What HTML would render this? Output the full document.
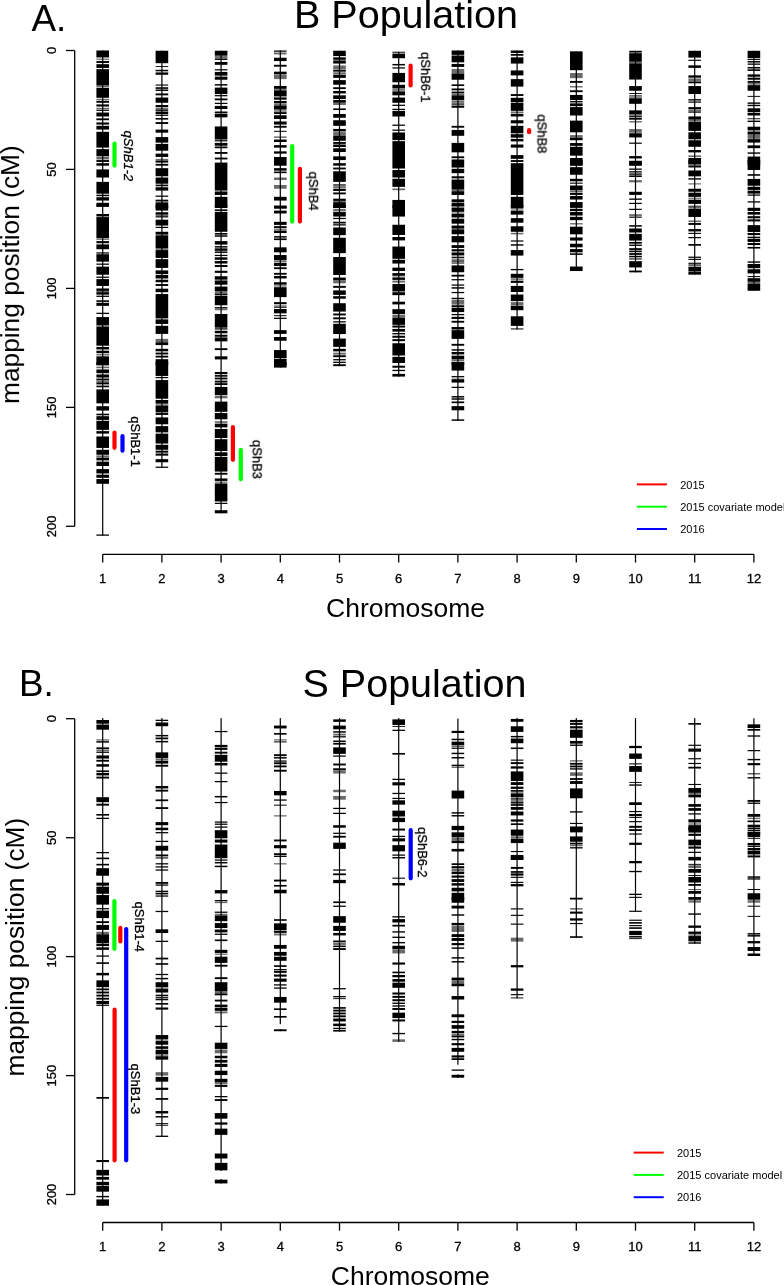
<!DOCTYPE html>
<html><head><meta charset="utf-8"><style>
html,body{margin:0;padding:0;background:#fff;}
svg{display:block;}
text{font-family:"Liberation Sans",sans-serif;fill:#000;}
.sm{stroke:#000;stroke-width:0.3px;}
</style></head><body>
<svg width="784" height="1285" viewBox="0 0 784 1285">
<rect width="784" height="1285" fill="#fff"/>
<rect x="96.40" y="719.98" width="12.60" height="3.74" fill="#000"/>
<rect x="96.40" y="723.97" width="12.60" height="0.75" fill="#6a6a6a"/>
<rect x="96.40" y="724.96" width="12.60" height="4.73" fill="#000"/>
<rect x="96.40" y="739.28" width="12.60" height="1.25" fill="#6a6a6a"/>
<rect x="96.40" y="741.15" width="12.60" height="1.49" fill="#000"/>
<rect x="96.40" y="747.38" width="12.60" height="1.87" fill="#000"/>
<rect x="96.40" y="749.87" width="12.60" height="1.87" fill="#6a6a6a"/>
<rect x="96.40" y="752.11" width="12.60" height="0.87" fill="#000"/>
<rect x="96.40" y="755.47" width="12.60" height="3.11" fill="#000"/>
<rect x="96.40" y="759.83" width="12.60" height="1.87" fill="#000"/>
<rect x="96.40" y="764.19" width="12.60" height="2.49" fill="#000"/>
<rect x="96.40" y="770.42" width="12.60" height="1.62" fill="#000"/>
<rect x="96.40" y="772.91" width="12.60" height="2.49" fill="#000"/>
<rect x="96.40" y="776.64" width="12.60" height="1.87" fill="#000"/>
<rect x="96.40" y="797.19" width="12.60" height="4.98" fill="#000"/>
<rect x="96.40" y="803.67" width="12.60" height="1.99" fill="#000"/>
<rect x="96.40" y="814.00" width="12.60" height="1.62" fill="#000"/>
<rect x="96.40" y="817.74" width="12.60" height="1.25" fill="#000"/>
<rect x="96.40" y="851.99" width="12.60" height="1.25" fill="#000"/>
<rect x="96.40" y="857.59" width="12.60" height="1.62" fill="#000"/>
<rect x="96.40" y="863.82" width="12.60" height="1.62" fill="#000"/>
<rect x="96.40" y="868.18" width="12.60" height="6.85" fill="#000"/>
<rect x="96.40" y="872.00" width="12.60" height="3.74" fill="#000"/>
<rect x="96.40" y="882.59" width="12.60" height="3.11" fill="#000"/>
<rect x="96.40" y="886.69" width="12.60" height="7.10" fill="#000"/>
<rect x="96.40" y="895.04" width="12.60" height="9.59" fill="#000"/>
<rect x="96.40" y="908.11" width="12.60" height="1.25" fill="#000"/>
<rect x="96.40" y="910.61" width="12.60" height="7.47" fill="#000"/>
<rect x="96.40" y="921.19" width="12.60" height="1.87" fill="#000"/>
<rect x="96.40" y="924.93" width="12.60" height="4.98" fill="#000"/>
<rect x="96.40" y="931.78" width="12.60" height="2.49" fill="#6a6a6a"/>
<rect x="96.40" y="934.27" width="12.60" height="8.72" fill="#000"/>
<rect x="96.40" y="943.61" width="12.60" height="2.49" fill="#000"/>
<rect x="96.40" y="947.34" width="12.60" height="2.49" fill="#000"/>
<rect x="96.40" y="955.44" width="12.60" height="1.25" fill="#000"/>
<rect x="96.40" y="962.29" width="12.60" height="1.62" fill="#000"/>
<rect x="96.40" y="972.87" width="12.60" height="2.49" fill="#000"/>
<rect x="96.40" y="980.34" width="12.60" height="6.85" fill="#000"/>
<rect x="96.40" y="988.44" width="12.60" height="1.87" fill="#000"/>
<rect x="96.40" y="991.55" width="12.60" height="1.87" fill="#000"/>
<rect x="96.40" y="994.67" width="12.60" height="1.87" fill="#000"/>
<rect x="96.40" y="997.78" width="12.60" height="1.87" fill="#000"/>
<rect x="96.40" y="1000.89" width="12.60" height="3.11" fill="#000"/>
<rect x="96.40" y="1004.63" width="12.60" height="1.25" fill="#000"/>
<rect x="96.40" y="1097.03" width="12.60" height="1.69" fill="#000"/>
<rect x="96.40" y="1159.99" width="12.60" height="2.11" fill="#000"/>
<rect x="96.40" y="1169.85" width="12.60" height="5.63" fill="#000"/>
<rect x="96.40" y="1176.89" width="12.60" height="2.82" fill="#000"/>
<rect x="96.40" y="1181.82" width="12.60" height="3.52" fill="#000"/>
<rect x="96.40" y="1186.04" width="12.60" height="5.63" fill="#000"/>
<rect x="96.40" y="1195.90" width="12.60" height="1.41" fill="#000"/>
<rect x="96.40" y="1199.42" width="12.60" height="6.34" fill="#000"/>
<rect x="102.10" y="718.11" width="1.20" height="487.65" fill="#000"/>
<rect x="155.60" y="719.73" width="12.60" height="1.25" fill="#000"/>
<rect x="155.60" y="722.47" width="12.60" height="3.74" fill="#000"/>
<rect x="155.60" y="734.93" width="12.60" height="1.25" fill="#000"/>
<rect x="155.60" y="736.42" width="12.60" height="1.00" fill="#6a6a6a"/>
<rect x="155.60" y="737.67" width="12.60" height="1.62" fill="#000"/>
<rect x="155.60" y="740.90" width="12.60" height="1.49" fill="#000"/>
<rect x="155.60" y="752.36" width="12.60" height="5.60" fill="#000"/>
<rect x="155.60" y="758.34" width="12.60" height="2.12" fill="#6a6a6a"/>
<rect x="155.60" y="760.83" width="12.60" height="2.74" fill="#000"/>
<rect x="155.60" y="764.81" width="12.60" height="1.87" fill="#000"/>
<rect x="155.60" y="785.98" width="12.60" height="2.49" fill="#000"/>
<rect x="155.60" y="789.72" width="12.60" height="1.87" fill="#000"/>
<rect x="155.60" y="799.43" width="12.60" height="1.74" fill="#000"/>
<rect x="155.60" y="807.15" width="12.60" height="1.87" fill="#000"/>
<rect x="155.60" y="822.10" width="12.60" height="3.11" fill="#000"/>
<rect x="155.60" y="827.70" width="12.60" height="2.49" fill="#000"/>
<rect x="155.60" y="832.06" width="12.60" height="1.25" fill="#000"/>
<rect x="155.60" y="840.78" width="12.60" height="1.25" fill="#000"/>
<rect x="155.60" y="845.76" width="12.60" height="4.98" fill="#000"/>
<rect x="155.60" y="854.48" width="12.60" height="1.87" fill="#000"/>
<rect x="155.60" y="856.97" width="12.60" height="1.87" fill="#6a6a6a"/>
<rect x="155.60" y="863.19" width="12.60" height="1.25" fill="#000"/>
<rect x="155.60" y="866.31" width="12.60" height="1.25" fill="#000"/>
<rect x="155.60" y="869.42" width="12.60" height="1.25" fill="#000"/>
<rect x="155.60" y="881.96" width="12.60" height="1.87" fill="#000"/>
<rect x="155.60" y="884.45" width="12.60" height="1.25" fill="#000"/>
<rect x="155.60" y="890.68" width="12.60" height="1.49" fill="#000"/>
<rect x="155.60" y="892.92" width="12.60" height="1.49" fill="#000"/>
<rect x="155.60" y="895.41" width="12.60" height="1.25" fill="#000"/>
<rect x="155.60" y="910.85" width="12.60" height="1.25" fill="#000"/>
<rect x="155.60" y="929.29" width="12.60" height="3.74" fill="#000"/>
<rect x="155.60" y="940.74" width="12.60" height="1.25" fill="#000"/>
<rect x="155.60" y="957.68" width="12.60" height="1.74" fill="#000"/>
<rect x="155.60" y="963.16" width="12.60" height="1.62" fill="#000"/>
<rect x="155.60" y="973.87" width="12.60" height="1.25" fill="#000"/>
<rect x="155.60" y="977.85" width="12.60" height="1.49" fill="#000"/>
<rect x="155.60" y="982.21" width="12.60" height="4.98" fill="#000"/>
<rect x="155.60" y="987.57" width="12.60" height="1.25" fill="#6a6a6a"/>
<rect x="155.60" y="989.06" width="12.60" height="3.49" fill="#000"/>
<rect x="155.60" y="994.67" width="12.60" height="1.62" fill="#000"/>
<rect x="155.60" y="997.16" width="12.60" height="1.25" fill="#000"/>
<rect x="155.60" y="999.02" width="12.60" height="1.25" fill="#000"/>
<rect x="155.60" y="1003.01" width="12.60" height="1.62" fill="#000"/>
<rect x="155.60" y="1007.49" width="12.60" height="2.12" fill="#000"/>
<rect x="155.60" y="1035.04" width="12.60" height="3.89" fill="#000"/>
<rect x="155.60" y="1039.19" width="12.60" height="1.47" fill="#6a6a6a"/>
<rect x="155.60" y="1041.09" width="12.60" height="3.63" fill="#000"/>
<rect x="155.60" y="1046.27" width="12.60" height="2.59" fill="#000"/>
<rect x="155.60" y="1049.73" width="12.60" height="4.32" fill="#000"/>
<rect x="155.60" y="1054.22" width="12.60" height="1.55" fill="#6a6a6a"/>
<rect x="155.60" y="1056.20" width="12.60" height="3.45" fill="#000"/>
<rect x="155.60" y="1072.18" width="12.60" height="3.45" fill="#6a6a6a"/>
<rect x="155.60" y="1076.93" width="12.60" height="4.75" fill="#000"/>
<rect x="155.60" y="1087.72" width="12.60" height="2.16" fill="#000"/>
<rect x="155.60" y="1098.08" width="12.60" height="1.73" fill="#000"/>
<rect x="155.60" y="1111.04" width="12.60" height="2.42" fill="#000"/>
<rect x="155.60" y="1116.05" width="12.60" height="1.47" fill="#000"/>
<rect x="155.60" y="1123.13" width="12.60" height="0.86" fill="#000"/>
<rect x="155.60" y="1124.68" width="12.60" height="1.04" fill="#000"/>
<rect x="155.60" y="1135.65" width="12.60" height="1.30" fill="#000"/>
<rect x="161.30" y="718.11" width="1.20" height="418.83" fill="#000"/>
<rect x="214.80" y="730.94" width="12.60" height="1.25" fill="#000"/>
<rect x="214.80" y="744.89" width="12.60" height="2.49" fill="#000"/>
<rect x="214.80" y="748.00" width="12.60" height="1.87" fill="#000"/>
<rect x="214.80" y="751.74" width="12.60" height="1.87" fill="#000"/>
<rect x="214.80" y="754.85" width="12.60" height="6.85" fill="#000"/>
<rect x="214.80" y="762.95" width="12.60" height="2.49" fill="#000"/>
<rect x="214.80" y="772.53" width="12.60" height="1.25" fill="#000"/>
<rect x="214.80" y="781.00" width="12.60" height="1.25" fill="#000"/>
<rect x="214.80" y="795.95" width="12.60" height="1.49" fill="#000"/>
<rect x="214.80" y="801.92" width="12.60" height="1.25" fill="#000"/>
<rect x="214.80" y="821.48" width="12.60" height="1.25" fill="#000"/>
<rect x="214.80" y="823.59" width="12.60" height="1.25" fill="#000"/>
<rect x="214.80" y="826.46" width="12.60" height="1.25" fill="#000"/>
<rect x="214.80" y="830.19" width="12.60" height="8.09" fill="#000"/>
<rect x="214.80" y="839.53" width="12.60" height="3.11" fill="#000"/>
<rect x="214.80" y="844.51" width="12.60" height="13.70" fill="#000"/>
<rect x="214.80" y="859.46" width="12.60" height="1.25" fill="#000"/>
<rect x="214.80" y="861.95" width="12.60" height="1.49" fill="#000"/>
<rect x="214.80" y="865.68" width="12.60" height="1.49" fill="#000"/>
<rect x="214.80" y="890.06" width="12.60" height="3.36" fill="#000"/>
<rect x="214.80" y="900.02" width="12.60" height="1.25" fill="#000"/>
<rect x="214.80" y="901.64" width="12.60" height="1.49" fill="#6a6a6a"/>
<rect x="214.80" y="911.60" width="12.60" height="1.25" fill="#000"/>
<rect x="214.80" y="913.72" width="12.60" height="1.25" fill="#6a6a6a"/>
<rect x="214.80" y="915.34" width="12.60" height="5.85" fill="#000"/>
<rect x="214.80" y="923.06" width="12.60" height="4.98" fill="#000"/>
<rect x="214.80" y="929.53" width="12.60" height="2.86" fill="#000"/>
<rect x="214.80" y="933.64" width="12.60" height="1.25" fill="#000"/>
<rect x="214.80" y="939.50" width="12.60" height="1.62" fill="#000"/>
<rect x="214.80" y="949.83" width="12.60" height="3.11" fill="#000"/>
<rect x="214.80" y="953.57" width="12.60" height="1.25" fill="#6a6a6a"/>
<rect x="214.80" y="956.68" width="12.60" height="6.23" fill="#000"/>
<rect x="214.80" y="964.78" width="12.60" height="1.87" fill="#000"/>
<rect x="214.80" y="977.23" width="12.60" height="1.87" fill="#000"/>
<rect x="214.80" y="982.21" width="12.60" height="9.34" fill="#000"/>
<rect x="214.80" y="991.55" width="12.60" height="1.87" fill="#6a6a6a"/>
<rect x="214.80" y="993.42" width="12.60" height="1.87" fill="#000"/>
<rect x="214.80" y="999.65" width="12.60" height="1.87" fill="#000"/>
<rect x="214.80" y="1004.63" width="12.60" height="2.49" fill="#000"/>
<rect x="214.80" y="1007.74" width="12.60" height="3.11" fill="#000"/>
<rect x="214.80" y="1011.48" width="12.60" height="1.87" fill="#6a6a6a"/>
<rect x="214.80" y="1025.80" width="12.60" height="1.25" fill="#000"/>
<rect x="214.80" y="1042.70" width="12.60" height="6.23" fill="#000"/>
<rect x="214.80" y="1049.55" width="12.60" height="3.74" fill="#6a6a6a"/>
<rect x="214.80" y="1055.77" width="12.60" height="2.49" fill="#000"/>
<rect x="214.80" y="1059.88" width="12.60" height="2.74" fill="#000"/>
<rect x="214.80" y="1063.87" width="12.60" height="3.11" fill="#000"/>
<rect x="214.80" y="1070.72" width="12.60" height="4.36" fill="#000"/>
<rect x="214.80" y="1078.81" width="12.60" height="3.74" fill="#000"/>
<rect x="214.80" y="1082.80" width="12.60" height="1.62" fill="#6a6a6a"/>
<rect x="214.80" y="1085.04" width="12.60" height="1.87" fill="#000"/>
<rect x="214.80" y="1096.00" width="12.60" height="1.25" fill="#000"/>
<rect x="214.80" y="1099.11" width="12.60" height="1.87" fill="#000"/>
<rect x="214.80" y="1113.06" width="12.60" height="5.60" fill="#000"/>
<rect x="214.80" y="1122.40" width="12.60" height="2.24" fill="#000"/>
<rect x="214.80" y="1128.63" width="12.60" height="6.23" fill="#000"/>
<rect x="214.80" y="1153.53" width="12.60" height="4.98" fill="#000"/>
<rect x="214.80" y="1162.87" width="12.60" height="7.47" fill="#000"/>
<rect x="214.80" y="1179.68" width="12.60" height="3.74" fill="#000"/>
<rect x="220.50" y="718.11" width="1.20" height="452.85" fill="#000"/>
<rect x="220.50" y="1179.06" width="1.20" height="4.36" fill="#000"/>
<rect x="274.00" y="725.59" width="12.60" height="2.86" fill="#000"/>
<rect x="274.00" y="733.06" width="12.60" height="1.62" fill="#000"/>
<rect x="274.00" y="739.28" width="12.60" height="1.25" fill="#6a6a6a"/>
<rect x="274.00" y="741.40" width="12.60" height="1.00" fill="#000"/>
<rect x="274.00" y="754.23" width="12.60" height="1.87" fill="#000"/>
<rect x="274.00" y="757.09" width="12.60" height="1.49" fill="#000"/>
<rect x="274.00" y="760.45" width="12.60" height="1.25" fill="#000"/>
<rect x="274.00" y="762.32" width="12.60" height="1.87" fill="#000"/>
<rect x="274.00" y="765.44" width="12.60" height="1.87" fill="#000"/>
<rect x="274.00" y="769.79" width="12.60" height="1.87" fill="#000"/>
<rect x="274.00" y="790.97" width="12.60" height="4.36" fill="#000"/>
<rect x="274.00" y="799.43" width="12.60" height="1.25" fill="#000"/>
<rect x="274.00" y="804.66" width="12.60" height="1.00" fill="#000"/>
<rect x="274.00" y="815.25" width="12.60" height="1.25" fill="#6a6a6a"/>
<rect x="274.00" y="839.53" width="12.60" height="1.87" fill="#000"/>
<rect x="274.00" y="845.14" width="12.60" height="3.11" fill="#000"/>
<rect x="274.00" y="853.23" width="12.60" height="1.87" fill="#000"/>
<rect x="274.00" y="855.72" width="12.60" height="1.25" fill="#000"/>
<rect x="274.00" y="863.19" width="12.60" height="1.25" fill="#6a6a6a"/>
<rect x="274.00" y="879.61" width="12.60" height="1.90" fill="#000"/>
<rect x="274.00" y="884.94" width="12.60" height="1.65" fill="#000"/>
<rect x="274.00" y="889.76" width="12.60" height="3.55" fill="#000"/>
<rect x="274.00" y="919.19" width="12.60" height="1.65" fill="#000"/>
<rect x="274.00" y="923.38" width="12.60" height="6.98" fill="#000"/>
<rect x="274.00" y="930.99" width="12.60" height="1.90" fill="#000"/>
<rect x="274.00" y="933.52" width="12.60" height="1.90" fill="#6a6a6a"/>
<rect x="274.00" y="944.94" width="12.60" height="3.81" fill="#000"/>
<rect x="274.00" y="951.92" width="12.60" height="3.81" fill="#000"/>
<rect x="274.00" y="956.74" width="12.60" height="4.06" fill="#000"/>
<rect x="274.00" y="965.24" width="12.60" height="1.65" fill="#000"/>
<rect x="274.00" y="969.04" width="12.60" height="1.27" fill="#000"/>
<rect x="274.00" y="970.95" width="12.60" height="1.90" fill="#000"/>
<rect x="274.00" y="974.50" width="12.60" height="2.16" fill="#000"/>
<rect x="274.00" y="978.56" width="12.60" height="3.17" fill="#000"/>
<rect x="274.00" y="984.27" width="12.60" height="1.27" fill="#000"/>
<rect x="274.00" y="987.44" width="12.60" height="1.27" fill="#000"/>
<rect x="274.00" y="996.95" width="12.60" height="5.71" fill="#000"/>
<rect x="274.00" y="1008.37" width="12.60" height="1.65" fill="#000"/>
<rect x="274.00" y="1015.98" width="12.60" height="1.65" fill="#000"/>
<rect x="274.00" y="1029.30" width="12.60" height="1.90" fill="#000"/>
<rect x="279.70" y="718.11" width="1.20" height="306.11" fill="#000"/>
<rect x="279.70" y="1029.05" width="1.20" height="2.16" fill="#000"/>
<rect x="333.20" y="719.36" width="12.60" height="2.49" fill="#000"/>
<rect x="333.20" y="725.59" width="12.60" height="3.74" fill="#000"/>
<rect x="333.20" y="731.19" width="12.60" height="1.49" fill="#000"/>
<rect x="333.20" y="733.68" width="12.60" height="1.87" fill="#6a6a6a"/>
<rect x="333.20" y="736.17" width="12.60" height="1.25" fill="#000"/>
<rect x="333.20" y="740.53" width="12.60" height="1.62" fill="#000"/>
<rect x="333.20" y="743.02" width="12.60" height="1.62" fill="#000"/>
<rect x="333.20" y="747.38" width="12.60" height="6.48" fill="#000"/>
<rect x="333.20" y="755.47" width="12.60" height="1.25" fill="#000"/>
<rect x="333.20" y="763.57" width="12.60" height="1.87" fill="#000"/>
<rect x="333.20" y="768.30" width="12.60" height="2.12" fill="#000"/>
<rect x="333.20" y="770.79" width="12.60" height="2.74" fill="#6a6a6a"/>
<rect x="333.20" y="789.72" width="12.60" height="2.49" fill="#6a6a6a"/>
<rect x="333.20" y="795.95" width="12.60" height="3.74" fill="#6a6a6a"/>
<rect x="333.20" y="807.78" width="12.60" height="1.25" fill="#000"/>
<rect x="333.20" y="812.76" width="12.60" height="1.25" fill="#000"/>
<rect x="333.20" y="825.21" width="12.60" height="2.49" fill="#000"/>
<rect x="333.20" y="832.68" width="12.60" height="1.25" fill="#000"/>
<rect x="333.20" y="835.80" width="12.60" height="1.87" fill="#000"/>
<rect x="333.20" y="842.65" width="12.60" height="6.23" fill="#000"/>
<rect x="333.20" y="869.42" width="12.60" height="1.25" fill="#000"/>
<rect x="333.20" y="873.52" width="12.60" height="1.65" fill="#000"/>
<rect x="333.20" y="873.78" width="12.60" height="1.25" fill="#000"/>
<rect x="333.20" y="879.87" width="12.60" height="3.30" fill="#000"/>
<rect x="333.20" y="901.43" width="12.60" height="1.65" fill="#000"/>
<rect x="333.20" y="905.62" width="12.60" height="1.27" fill="#000"/>
<rect x="333.20" y="916.15" width="12.60" height="6.60" fill="#000"/>
<rect x="333.20" y="925.91" width="12.60" height="5.07" fill="#000"/>
<rect x="333.20" y="932.89" width="12.60" height="2.54" fill="#000"/>
<rect x="333.20" y="940.50" width="12.60" height="1.52" fill="#000"/>
<rect x="333.20" y="942.40" width="12.60" height="2.54" fill="#6a6a6a"/>
<rect x="333.20" y="945.58" width="12.60" height="1.52" fill="#000"/>
<rect x="333.20" y="948.11" width="12.60" height="1.90" fill="#000"/>
<rect x="333.20" y="988.07" width="12.60" height="1.27" fill="#000"/>
<rect x="333.20" y="996.06" width="12.60" height="1.27" fill="#000"/>
<rect x="333.20" y="998.22" width="12.60" height="0.89" fill="#000"/>
<rect x="333.20" y="1007.10" width="12.60" height="1.65" fill="#000"/>
<rect x="333.20" y="1009.64" width="12.60" height="1.90" fill="#000"/>
<rect x="333.20" y="1012.56" width="12.60" height="1.78" fill="#000"/>
<rect x="333.20" y="1015.35" width="12.60" height="1.90" fill="#000"/>
<rect x="333.20" y="1018.52" width="12.60" height="2.92" fill="#000"/>
<rect x="333.20" y="1023.59" width="12.60" height="2.54" fill="#000"/>
<rect x="333.20" y="1027.78" width="12.60" height="1.27" fill="#000"/>
<rect x="333.20" y="1029.93" width="12.60" height="1.65" fill="#000"/>
<rect x="338.90" y="718.11" width="1.20" height="313.47" fill="#000"/>
<rect x="392.40" y="719.36" width="12.60" height="5.60" fill="#000"/>
<rect x="392.40" y="725.96" width="12.60" height="0.87" fill="#000"/>
<rect x="392.40" y="729.69" width="12.60" height="1.25" fill="#000"/>
<rect x="392.40" y="752.98" width="12.60" height="1.62" fill="#000"/>
<rect x="392.40" y="778.76" width="12.60" height="1.25" fill="#000"/>
<rect x="392.40" y="782.25" width="12.60" height="3.11" fill="#000"/>
<rect x="392.40" y="792.83" width="12.60" height="1.25" fill="#000"/>
<rect x="392.40" y="797.81" width="12.60" height="1.25" fill="#000"/>
<rect x="392.40" y="800.31" width="12.60" height="4.36" fill="#000"/>
<rect x="392.40" y="810.64" width="12.60" height="5.85" fill="#000"/>
<rect x="392.40" y="817.74" width="12.60" height="4.36" fill="#000"/>
<rect x="392.40" y="828.57" width="12.60" height="1.99" fill="#000"/>
<rect x="392.40" y="835.80" width="12.60" height="1.25" fill="#000"/>
<rect x="392.40" y="838.29" width="12.60" height="3.11" fill="#000"/>
<rect x="392.40" y="845.14" width="12.60" height="6.23" fill="#000"/>
<rect x="392.40" y="854.48" width="12.60" height="1.25" fill="#000"/>
<rect x="392.40" y="856.97" width="12.60" height="1.49" fill="#000"/>
<rect x="392.40" y="877.65" width="12.60" height="1.08" fill="#000"/>
<rect x="392.40" y="883.04" width="12.60" height="2.42" fill="#000"/>
<rect x="392.40" y="916.16" width="12.60" height="1.35" fill="#000"/>
<rect x="392.40" y="919.12" width="12.60" height="3.37" fill="#000"/>
<rect x="392.40" y="924.77" width="12.60" height="1.75" fill="#000"/>
<rect x="392.40" y="931.24" width="12.60" height="1.35" fill="#000"/>
<rect x="392.40" y="936.62" width="12.60" height="1.35" fill="#000"/>
<rect x="392.40" y="942.01" width="12.60" height="1.35" fill="#000"/>
<rect x="392.40" y="945.77" width="12.60" height="3.63" fill="#000"/>
<rect x="392.40" y="949.81" width="12.60" height="3.63" fill="#6a6a6a"/>
<rect x="392.40" y="962.47" width="12.60" height="2.15" fill="#000"/>
<rect x="392.40" y="971.62" width="12.60" height="1.62" fill="#000"/>
<rect x="392.40" y="974.99" width="12.60" height="2.29" fill="#000"/>
<rect x="392.40" y="979.03" width="12.60" height="2.69" fill="#000"/>
<rect x="392.40" y="982.66" width="12.60" height="5.12" fill="#000"/>
<rect x="392.40" y="992.49" width="12.60" height="2.02" fill="#000"/>
<rect x="392.40" y="995.86" width="12.60" height="2.02" fill="#000"/>
<rect x="392.40" y="999.22" width="12.60" height="2.02" fill="#000"/>
<rect x="392.40" y="1002.59" width="12.60" height="1.35" fill="#000"/>
<rect x="392.40" y="1005.28" width="12.60" height="1.35" fill="#000"/>
<rect x="392.40" y="1007.97" width="12.60" height="2.02" fill="#000"/>
<rect x="392.40" y="1012.68" width="12.60" height="5.39" fill="#000"/>
<rect x="392.40" y="1019.42" width="12.60" height="2.02" fill="#000"/>
<rect x="392.40" y="1032.88" width="12.60" height="1.35" fill="#000"/>
<rect x="392.40" y="1039.34" width="12.60" height="2.56" fill="#6a6a6a"/>
<rect x="398.10" y="718.11" width="1.20" height="323.78" fill="#000"/>
<rect x="451.60" y="730.84" width="12.60" height="2.16" fill="#000"/>
<rect x="451.60" y="738.75" width="12.60" height="1.44" fill="#000"/>
<rect x="451.60" y="741.63" width="12.60" height="3.60" fill="#000"/>
<rect x="451.60" y="745.52" width="12.60" height="1.87" fill="#6a6a6a"/>
<rect x="451.60" y="747.82" width="12.60" height="1.01" fill="#000"/>
<rect x="451.60" y="752.72" width="12.60" height="1.44" fill="#000"/>
<rect x="451.60" y="757.04" width="12.60" height="1.44" fill="#000"/>
<rect x="451.60" y="764.67" width="12.60" height="1.44" fill="#000"/>
<rect x="451.60" y="766.54" width="12.60" height="1.44" fill="#6a6a6a"/>
<rect x="451.60" y="790.58" width="12.60" height="7.92" fill="#000"/>
<rect x="451.60" y="812.18" width="12.60" height="1.44" fill="#000"/>
<rect x="451.60" y="815.06" width="12.60" height="1.44" fill="#000"/>
<rect x="451.60" y="825.86" width="12.60" height="4.32" fill="#000"/>
<rect x="451.60" y="832.33" width="12.60" height="5.04" fill="#000"/>
<rect x="451.60" y="837.66" width="12.60" height="2.59" fill="#6a6a6a"/>
<rect x="451.60" y="840.54" width="12.60" height="2.59" fill="#000"/>
<rect x="451.60" y="848.89" width="12.60" height="2.59" fill="#000"/>
<rect x="451.60" y="863.29" width="12.60" height="1.73" fill="#000"/>
<rect x="451.60" y="866.17" width="12.60" height="2.16" fill="#000"/>
<rect x="451.60" y="868.76" width="12.60" height="2.45" fill="#6a6a6a"/>
<rect x="451.60" y="871.64" width="12.60" height="2.45" fill="#000"/>
<rect x="451.60" y="875.52" width="12.60" height="2.16" fill="#000"/>
<rect x="451.60" y="879.12" width="12.60" height="2.88" fill="#000"/>
<rect x="451.60" y="883.15" width="12.60" height="2.45" fill="#000"/>
<rect x="451.60" y="887.76" width="12.60" height="3.60" fill="#000"/>
<rect x="451.60" y="892.80" width="12.60" height="7.20" fill="#000"/>
<rect x="451.60" y="897.00" width="12.60" height="5.76" fill="#000"/>
<rect x="451.60" y="905.64" width="12.60" height="2.88" fill="#000"/>
<rect x="451.60" y="914.28" width="12.60" height="1.44" fill="#000"/>
<rect x="451.60" y="922.91" width="12.60" height="2.16" fill="#000"/>
<rect x="451.60" y="925.51" width="12.60" height="4.61" fill="#6a6a6a"/>
<rect x="451.60" y="930.40" width="12.60" height="1.15" fill="#000"/>
<rect x="451.60" y="934.14" width="12.60" height="2.88" fill="#000"/>
<rect x="451.60" y="938.03" width="12.60" height="2.88" fill="#000"/>
<rect x="451.60" y="943.07" width="12.60" height="2.16" fill="#000"/>
<rect x="451.60" y="947.39" width="12.60" height="1.44" fill="#000"/>
<rect x="451.60" y="957.18" width="12.60" height="1.44" fill="#000"/>
<rect x="451.60" y="961.07" width="12.60" height="1.44" fill="#000"/>
<rect x="451.60" y="977.62" width="12.60" height="2.88" fill="#000"/>
<rect x="451.60" y="980.79" width="12.60" height="2.30" fill="#6a6a6a"/>
<rect x="451.60" y="983.38" width="12.60" height="2.88" fill="#000"/>
<rect x="451.60" y="996.05" width="12.60" height="3.46" fill="#000"/>
<rect x="451.60" y="1014.33" width="12.60" height="2.88" fill="#000"/>
<rect x="451.60" y="1020.81" width="12.60" height="2.16" fill="#000"/>
<rect x="451.60" y="1025.13" width="12.60" height="3.60" fill="#000"/>
<rect x="451.60" y="1030.89" width="12.60" height="2.16" fill="#000"/>
<rect x="451.60" y="1033.48" width="12.60" height="1.73" fill="#6a6a6a"/>
<rect x="451.60" y="1035.50" width="12.60" height="1.87" fill="#000"/>
<rect x="451.60" y="1038.81" width="12.60" height="1.44" fill="#000"/>
<rect x="451.60" y="1043.13" width="12.60" height="2.16" fill="#000"/>
<rect x="451.60" y="1047.88" width="12.60" height="3.89" fill="#000"/>
<rect x="451.60" y="1055.36" width="12.60" height="2.16" fill="#000"/>
<rect x="451.60" y="1058.24" width="12.60" height="1.73" fill="#000"/>
<rect x="451.60" y="1069.47" width="12.60" height="1.30" fill="#000"/>
<rect x="451.60" y="1074.80" width="12.60" height="2.88" fill="#000"/>
<rect x="457.30" y="718.60" width="1.20" height="346.12" fill="#000"/>
<rect x="457.30" y="1074.37" width="1.20" height="3.31" fill="#000"/>
<rect x="510.80" y="718.95" width="12.60" height="2.82" fill="#000"/>
<rect x="510.80" y="726.28" width="12.60" height="5.64" fill="#000"/>
<rect x="510.80" y="735.88" width="12.60" height="1.13" fill="#000"/>
<rect x="510.80" y="737.34" width="12.60" height="1.35" fill="#6a6a6a"/>
<rect x="510.80" y="738.92" width="12.60" height="4.29" fill="#000"/>
<rect x="510.80" y="747.50" width="12.60" height="1.58" fill="#000"/>
<rect x="510.80" y="759.57" width="12.60" height="1.13" fill="#000"/>
<rect x="510.80" y="762.17" width="12.60" height="1.92" fill="#000"/>
<rect x="510.80" y="766.34" width="12.60" height="2.26" fill="#000"/>
<rect x="510.80" y="771.42" width="12.60" height="9.59" fill="#000"/>
<rect x="510.80" y="782.14" width="12.60" height="2.82" fill="#000"/>
<rect x="510.80" y="786.65" width="12.60" height="2.26" fill="#000"/>
<rect x="510.80" y="790.04" width="12.60" height="1.69" fill="#000"/>
<rect x="510.80" y="792.30" width="12.60" height="1.13" fill="#6a6a6a"/>
<rect x="510.80" y="793.42" width="12.60" height="3.95" fill="#000"/>
<rect x="510.80" y="798.28" width="12.60" height="1.35" fill="#000"/>
<rect x="510.80" y="800.20" width="12.60" height="1.69" fill="#6a6a6a"/>
<rect x="510.80" y="802.11" width="12.60" height="1.47" fill="#000"/>
<rect x="510.80" y="804.14" width="12.60" height="1.69" fill="#000"/>
<rect x="510.80" y="806.97" width="12.60" height="2.82" fill="#000"/>
<rect x="510.80" y="811.48" width="12.60" height="3.95" fill="#000"/>
<rect x="510.80" y="819.38" width="12.60" height="2.26" fill="#000"/>
<rect x="510.80" y="823.33" width="12.60" height="1.69" fill="#000"/>
<rect x="510.80" y="829.53" width="12.60" height="6.21" fill="#000"/>
<rect x="510.80" y="836.30" width="12.60" height="1.69" fill="#6a6a6a"/>
<rect x="510.80" y="838.56" width="12.60" height="4.51" fill="#000"/>
<rect x="510.80" y="850.97" width="12.60" height="1.13" fill="#000"/>
<rect x="510.80" y="854.92" width="12.60" height="5.08" fill="#000"/>
<rect x="510.80" y="857.00" width="12.60" height="2.26" fill="#000"/>
<rect x="510.80" y="866.93" width="12.60" height="1.92" fill="#000"/>
<rect x="510.80" y="871.11" width="12.60" height="1.69" fill="#000"/>
<rect x="510.80" y="873.36" width="12.60" height="2.26" fill="#000"/>
<rect x="510.80" y="876.75" width="12.60" height="1.13" fill="#000"/>
<rect x="510.80" y="881.83" width="12.60" height="1.13" fill="#000"/>
<rect x="510.80" y="884.08" width="12.60" height="2.26" fill="#000"/>
<rect x="510.80" y="908.34" width="12.60" height="1.13" fill="#000"/>
<rect x="510.80" y="914.77" width="12.60" height="1.13" fill="#000"/>
<rect x="510.80" y="923.58" width="12.60" height="1.13" fill="#000"/>
<rect x="510.80" y="937.68" width="12.60" height="3.95" fill="#6a6a6a"/>
<rect x="510.80" y="965.10" width="12.60" height="2.26" fill="#000"/>
<rect x="510.80" y="988.46" width="12.60" height="2.26" fill="#000"/>
<rect x="510.80" y="994.10" width="12.60" height="1.13" fill="#000"/>
<rect x="510.80" y="997.49" width="12.60" height="0.90" fill="#000"/>
<rect x="516.50" y="717.82" width="1.20" height="280.57" fill="#000"/>
<rect x="570.00" y="719.92" width="12.60" height="2.24" fill="#000"/>
<rect x="570.00" y="722.88" width="12.60" height="1.97" fill="#000"/>
<rect x="570.00" y="726.19" width="12.60" height="1.79" fill="#000"/>
<rect x="570.00" y="728.25" width="12.60" height="1.07" fill="#6a6a6a"/>
<rect x="570.00" y="729.77" width="12.60" height="8.06" fill="#000"/>
<rect x="570.00" y="740.96" width="12.60" height="2.69" fill="#000"/>
<rect x="570.00" y="744.54" width="12.60" height="1.34" fill="#000"/>
<rect x="570.00" y="760.21" width="12.60" height="1.34" fill="#6a6a6a"/>
<rect x="570.00" y="762.90" width="12.60" height="1.79" fill="#000"/>
<rect x="570.00" y="765.58" width="12.60" height="1.79" fill="#000"/>
<rect x="570.00" y="768.27" width="12.60" height="1.34" fill="#000"/>
<rect x="570.00" y="772.30" width="12.60" height="3.58" fill="#6a6a6a"/>
<rect x="570.00" y="778.12" width="12.60" height="1.79" fill="#000"/>
<rect x="570.00" y="781.07" width="12.60" height="2.86" fill="#000"/>
<rect x="570.00" y="788.41" width="12.60" height="9.85" fill="#000"/>
<rect x="570.00" y="811.24" width="12.60" height="1.34" fill="#000"/>
<rect x="570.00" y="822.88" width="12.60" height="1.16" fill="#000"/>
<rect x="570.00" y="826.46" width="12.60" height="3.58" fill="#000"/>
<rect x="570.00" y="827.00" width="12.60" height="5.37" fill="#000"/>
<rect x="570.00" y="836.40" width="12.60" height="5.37" fill="#000"/>
<rect x="570.00" y="842.67" width="12.60" height="1.79" fill="#000"/>
<rect x="570.00" y="844.91" width="12.60" height="1.34" fill="#6a6a6a"/>
<rect x="570.00" y="847.14" width="12.60" height="1.34" fill="#000"/>
<rect x="570.00" y="897.73" width="12.60" height="1.79" fill="#000"/>
<rect x="570.00" y="908.47" width="12.60" height="0.90" fill="#000"/>
<rect x="570.00" y="911.60" width="12.60" height="2.06" fill="#000"/>
<rect x="570.00" y="918.32" width="12.60" height="2.24" fill="#000"/>
<rect x="570.00" y="922.97" width="12.60" height="1.16" fill="#000"/>
<rect x="570.00" y="936.22" width="12.60" height="1.61" fill="#000"/>
<rect x="575.70" y="718.13" width="1.20" height="219.70" fill="#000"/>
<rect x="629.20" y="745.89" width="12.60" height="2.24" fill="#000"/>
<rect x="629.20" y="753.50" width="12.60" height="5.37" fill="#000"/>
<rect x="629.20" y="763.34" width="12.60" height="1.07" fill="#000"/>
<rect x="629.20" y="766.03" width="12.60" height="5.82" fill="#000"/>
<rect x="629.20" y="781.97" width="12.60" height="0.90" fill="#000"/>
<rect x="629.20" y="784.38" width="12.60" height="1.34" fill="#000"/>
<rect x="629.20" y="802.29" width="12.60" height="2.69" fill="#000"/>
<rect x="629.20" y="810.97" width="12.60" height="1.16" fill="#000"/>
<rect x="629.20" y="813.93" width="12.60" height="2.24" fill="#000"/>
<rect x="629.20" y="817.06" width="12.60" height="0.90" fill="#000"/>
<rect x="629.20" y="821.09" width="12.60" height="1.16" fill="#000"/>
<rect x="629.20" y="825.83" width="12.60" height="1.52" fill="#000"/>
<rect x="629.20" y="827.00" width="12.60" height="0.72" fill="#000"/>
<rect x="629.20" y="829.15" width="12.60" height="0.90" fill="#000"/>
<rect x="629.20" y="829.86" width="12.60" height="1.16" fill="#000"/>
<rect x="629.20" y="833.45" width="12.60" height="1.16" fill="#000"/>
<rect x="629.20" y="842.67" width="12.60" height="2.24" fill="#000"/>
<rect x="629.20" y="861.02" width="12.60" height="2.24" fill="#000"/>
<rect x="629.20" y="870.87" width="12.60" height="1.34" fill="#000"/>
<rect x="629.20" y="893.70" width="12.60" height="1.34" fill="#000"/>
<rect x="629.20" y="896.83" width="12.60" height="1.07" fill="#000"/>
<rect x="629.20" y="910.71" width="12.60" height="1.16" fill="#000"/>
<rect x="629.20" y="919.66" width="12.60" height="1.16" fill="#000"/>
<rect x="629.20" y="922.08" width="12.60" height="1.61" fill="#000"/>
<rect x="629.20" y="925.03" width="12.60" height="1.16" fill="#000"/>
<rect x="629.20" y="927.27" width="12.60" height="1.61" fill="#000"/>
<rect x="629.20" y="930.85" width="12.60" height="4.30" fill="#000"/>
<rect x="629.20" y="936.04" width="12.60" height="1.52" fill="#000"/>
<rect x="629.20" y="938.19" width="12.60" height="0.90" fill="#000"/>
<rect x="634.90" y="718.13" width="1.20" height="193.74" fill="#000"/>
<rect x="634.90" y="938.91" width="1.20" height="0.18" fill="#000"/>
<rect x="688.40" y="723.06" width="12.60" height="1.61" fill="#000"/>
<rect x="688.40" y="744.72" width="12.60" height="1.16" fill="#000"/>
<rect x="688.40" y="748.57" width="12.60" height="3.13" fill="#000"/>
<rect x="688.40" y="758.15" width="12.60" height="1.16" fill="#000"/>
<rect x="688.40" y="762.90" width="12.60" height="1.16" fill="#000"/>
<rect x="688.40" y="766.75" width="12.60" height="1.79" fill="#000"/>
<rect x="688.40" y="783.93" width="12.60" height="1.07" fill="#000"/>
<rect x="688.40" y="787.96" width="12.60" height="4.92" fill="#000"/>
<rect x="688.40" y="793.07" width="12.60" height="1.16" fill="#6a6a6a"/>
<rect x="688.40" y="794.50" width="12.60" height="2.86" fill="#000"/>
<rect x="688.40" y="804.08" width="12.60" height="2.69" fill="#000"/>
<rect x="688.40" y="808.11" width="12.60" height="2.69" fill="#000"/>
<rect x="688.40" y="813.30" width="12.60" height="1.25" fill="#000"/>
<rect x="688.40" y="819.30" width="12.60" height="3.13" fill="#000"/>
<rect x="688.40" y="823.33" width="12.60" height="1.34" fill="#6a6a6a"/>
<rect x="688.40" y="825.12" width="12.60" height="4.92" fill="#000"/>
<rect x="688.40" y="827.00" width="12.60" height="5.60" fill="#000"/>
<rect x="688.40" y="833.72" width="12.60" height="2.15" fill="#000"/>
<rect x="688.40" y="839.61" width="12.60" height="5.60" fill="#000"/>
<rect x="688.40" y="845.49" width="12.60" height="1.12" fill="#6a6a6a"/>
<rect x="688.40" y="846.79" width="12.60" height="1.87" fill="#000"/>
<rect x="688.40" y="851.74" width="12.60" height="1.21" fill="#000"/>
<rect x="688.40" y="856.88" width="12.60" height="3.55" fill="#000"/>
<rect x="688.40" y="863.88" width="12.60" height="0.93" fill="#000"/>
<rect x="688.40" y="865.28" width="12.60" height="2.80" fill="#6a6a6a"/>
<rect x="688.40" y="869.02" width="12.60" height="3.73" fill="#000"/>
<rect x="688.40" y="875.09" width="12.60" height="0.93" fill="#000"/>
<rect x="688.40" y="876.95" width="12.60" height="5.60" fill="#000"/>
<rect x="688.40" y="883.96" width="12.60" height="1.87" fill="#000"/>
<rect x="688.40" y="889.09" width="12.60" height="0.65" fill="#000"/>
<rect x="688.40" y="890.96" width="12.60" height="2.80" fill="#000"/>
<rect x="688.40" y="897.03" width="12.60" height="2.80" fill="#000"/>
<rect x="688.40" y="900.30" width="12.60" height="2.33" fill="#6a6a6a"/>
<rect x="688.40" y="913.37" width="12.60" height="1.40" fill="#000"/>
<rect x="688.40" y="925.51" width="12.60" height="2.33" fill="#000"/>
<rect x="688.40" y="931.58" width="12.60" height="2.33" fill="#000"/>
<rect x="688.40" y="934.38" width="12.60" height="1.40" fill="#6a6a6a"/>
<rect x="688.40" y="936.06" width="12.60" height="5.32" fill="#000"/>
<rect x="688.40" y="942.31" width="12.60" height="1.40" fill="#000"/>
<rect x="694.10" y="718.13" width="1.20" height="225.58" fill="#000"/>
<rect x="747.60" y="724.34" width="12.60" height="3.73" fill="#000"/>
<rect x="747.60" y="729.01" width="12.60" height="1.68" fill="#000"/>
<rect x="747.60" y="735.35" width="12.60" height="1.31" fill="#000"/>
<rect x="747.60" y="750.01" width="12.60" height="1.21" fill="#000"/>
<rect x="747.60" y="758.88" width="12.60" height="1.40" fill="#000"/>
<rect x="747.60" y="763.09" width="12.60" height="2.15" fill="#000"/>
<rect x="747.60" y="773.36" width="12.60" height="0.93" fill="#000"/>
<rect x="747.60" y="777.09" width="12.60" height="1.40" fill="#000"/>
<rect x="747.60" y="799.97" width="12.60" height="1.87" fill="#000"/>
<rect x="747.60" y="802.58" width="12.60" height="1.31" fill="#000"/>
<rect x="747.60" y="813.97" width="12.60" height="2.80" fill="#000"/>
<rect x="747.60" y="817.71" width="12.60" height="1.40" fill="#6a6a6a"/>
<rect x="747.60" y="820.51" width="12.60" height="1.68" fill="#000"/>
<rect x="747.60" y="824.71" width="12.60" height="2.33" fill="#000"/>
<rect x="747.60" y="827.51" width="12.60" height="1.87" fill="#000"/>
<rect x="747.60" y="830.03" width="12.60" height="1.21" fill="#000"/>
<rect x="747.60" y="831.71" width="12.60" height="3.27" fill="#6a6a6a"/>
<rect x="747.60" y="832.00" width="12.60" height="4.98" fill="#000"/>
<rect x="747.60" y="837.78" width="12.60" height="1.00" fill="#000"/>
<rect x="747.60" y="842.96" width="12.60" height="2.49" fill="#000"/>
<rect x="747.60" y="845.94" width="12.60" height="1.00" fill="#000"/>
<rect x="747.60" y="847.94" width="12.60" height="2.49" fill="#000"/>
<rect x="747.60" y="850.92" width="12.60" height="3.49" fill="#000"/>
<rect x="747.60" y="854.71" width="12.60" height="1.20" fill="#6a6a6a"/>
<rect x="747.60" y="855.90" width="12.60" height="1.49" fill="#000"/>
<rect x="747.60" y="876.32" width="12.60" height="1.49" fill="#000"/>
<rect x="747.60" y="878.31" width="12.60" height="1.29" fill="#000"/>
<rect x="747.60" y="888.97" width="12.60" height="1.00" fill="#000"/>
<rect x="747.60" y="893.25" width="12.60" height="6.47" fill="#000"/>
<rect x="747.60" y="900.23" width="12.60" height="2.49" fill="#6a6a6a"/>
<rect x="747.60" y="905.71" width="12.60" height="1.00" fill="#000"/>
<rect x="747.60" y="915.86" width="12.60" height="1.00" fill="#000"/>
<rect x="747.60" y="933.10" width="12.60" height="1.49" fill="#000"/>
<rect x="747.60" y="935.09" width="12.60" height="1.49" fill="#000"/>
<rect x="747.60" y="941.06" width="12.60" height="2.29" fill="#000"/>
<rect x="747.60" y="947.04" width="12.60" height="3.98" fill="#000"/>
<rect x="747.60" y="953.51" width="12.60" height="2.49" fill="#000"/>
<rect x="753.30" y="718.27" width="1.20" height="237.74" fill="#000"/>
<rect x="96.40" y="50.49" width="12.60" height="6.97" fill="#000"/>
<rect x="96.40" y="58.59" width="12.60" height="1.25" fill="#6a6a6a"/>
<rect x="96.40" y="61.08" width="12.60" height="1.87" fill="#000"/>
<rect x="96.40" y="64.19" width="12.60" height="3.74" fill="#000"/>
<rect x="96.40" y="69.17" width="12.60" height="16.44" fill="#000"/>
<rect x="96.40" y="85.98" width="12.60" height="1.25" fill="#6a6a6a"/>
<rect x="96.40" y="87.85" width="12.60" height="9.96" fill="#000"/>
<rect x="96.40" y="98.81" width="12.60" height="1.49" fill="#6a6a6a"/>
<rect x="96.40" y="100.93" width="12.60" height="1.87" fill="#000"/>
<rect x="96.40" y="104.41" width="12.60" height="2.12" fill="#000"/>
<rect x="96.40" y="107.78" width="12.60" height="1.25" fill="#6a6a6a"/>
<rect x="96.40" y="109.64" width="12.60" height="1.25" fill="#000"/>
<rect x="96.40" y="112.51" width="12.60" height="3.99" fill="#000"/>
<rect x="96.40" y="118.36" width="12.60" height="1.87" fill="#000"/>
<rect x="96.40" y="122.47" width="12.60" height="2.12" fill="#000"/>
<rect x="96.40" y="125.83" width="12.60" height="3.74" fill="#000"/>
<rect x="96.40" y="131.81" width="12.60" height="15.82" fill="#000"/>
<rect x="96.40" y="149.12" width="12.60" height="7.22" fill="#000"/>
<rect x="96.40" y="156.97" width="12.60" height="2.49" fill="#6a6a6a"/>
<rect x="96.40" y="160.08" width="12.60" height="1.87" fill="#000"/>
<rect x="96.40" y="163.19" width="12.60" height="2.49" fill="#000"/>
<rect x="96.40" y="169.42" width="12.60" height="8.09" fill="#000"/>
<rect x="96.40" y="181.87" width="12.60" height="11.83" fill="#000"/>
<rect x="96.40" y="194.70" width="12.60" height="1.49" fill="#000"/>
<rect x="96.40" y="197.19" width="12.60" height="3.36" fill="#000"/>
<rect x="96.40" y="202.79" width="12.60" height="3.99" fill="#000"/>
<rect x="96.40" y="205.00" width="12.60" height="1.49" fill="#000"/>
<rect x="96.40" y="213.97" width="12.60" height="2.49" fill="#000"/>
<rect x="96.40" y="217.08" width="12.60" height="20.92" fill="#000"/>
<rect x="96.40" y="238.37" width="12.60" height="1.49" fill="#6a6a6a"/>
<rect x="96.40" y="241.11" width="12.60" height="1.87" fill="#000"/>
<rect x="96.40" y="243.61" width="12.60" height="1.25" fill="#6a6a6a"/>
<rect x="96.40" y="244.85" width="12.60" height="4.36" fill="#000"/>
<rect x="96.40" y="252.32" width="12.60" height="1.25" fill="#000"/>
<rect x="96.40" y="254.19" width="12.60" height="7.47" fill="#000"/>
<rect x="96.40" y="263.53" width="12.60" height="1.25" fill="#000"/>
<rect x="96.40" y="266.64" width="12.60" height="8.09" fill="#000"/>
<rect x="96.40" y="276.61" width="12.60" height="1.25" fill="#000"/>
<rect x="96.40" y="279.10" width="12.60" height="6.85" fill="#000"/>
<rect x="96.40" y="288.44" width="12.60" height="2.49" fill="#000"/>
<rect x="96.40" y="290.93" width="12.60" height="1.25" fill="#6a6a6a"/>
<rect x="96.40" y="292.17" width="12.60" height="2.49" fill="#000"/>
<rect x="96.40" y="295.66" width="12.60" height="1.25" fill="#000"/>
<rect x="96.40" y="300.27" width="12.60" height="1.62" fill="#000"/>
<rect x="96.40" y="302.76" width="12.60" height="3.11" fill="#000"/>
<rect x="96.40" y="312.72" width="12.60" height="1.25" fill="#000"/>
<rect x="96.40" y="317.08" width="12.60" height="8.09" fill="#000"/>
<rect x="96.40" y="325.17" width="12.60" height="1.62" fill="#6a6a6a"/>
<rect x="96.40" y="326.79" width="12.60" height="18.93" fill="#000"/>
<rect x="96.40" y="346.97" width="12.60" height="2.49" fill="#000"/>
<rect x="96.40" y="350.70" width="12.60" height="2.49" fill="#000"/>
<rect x="96.40" y="354.07" width="12.60" height="1.37" fill="#6a6a6a"/>
<rect x="96.40" y="356.31" width="12.60" height="8.72" fill="#000"/>
<rect x="96.40" y="362.00" width="12.60" height="3.36" fill="#000"/>
<rect x="96.40" y="366.61" width="12.60" height="1.62" fill="#6a6a6a"/>
<rect x="96.40" y="369.47" width="12.60" height="3.74" fill="#000"/>
<rect x="96.40" y="374.45" width="12.60" height="3.11" fill="#000"/>
<rect x="96.40" y="378.56" width="12.60" height="1.87" fill="#000"/>
<rect x="96.40" y="380.68" width="12.60" height="1.25" fill="#6a6a6a"/>
<rect x="96.40" y="382.30" width="12.60" height="1.87" fill="#000"/>
<rect x="96.40" y="384.42" width="12.60" height="1.25" fill="#6a6a6a"/>
<rect x="96.40" y="386.03" width="12.60" height="1.25" fill="#000"/>
<rect x="96.40" y="389.40" width="12.60" height="13.95" fill="#000"/>
<rect x="96.40" y="406.21" width="12.60" height="4.36" fill="#000"/>
<rect x="96.40" y="413.68" width="12.60" height="1.62" fill="#000"/>
<rect x="96.40" y="416.17" width="12.60" height="3.74" fill="#000"/>
<rect x="96.40" y="420.78" width="12.60" height="9.09" fill="#000"/>
<rect x="96.40" y="431.12" width="12.60" height="2.49" fill="#000"/>
<rect x="96.40" y="436.47" width="12.60" height="11.46" fill="#000"/>
<rect x="96.40" y="449.80" width="12.60" height="4.98" fill="#000"/>
<rect x="96.40" y="455.40" width="12.60" height="1.87" fill="#6a6a6a"/>
<rect x="96.40" y="457.64" width="12.60" height="2.74" fill="#000"/>
<rect x="96.40" y="461.63" width="12.60" height="4.36" fill="#000"/>
<rect x="96.40" y="469.10" width="12.60" height="4.36" fill="#000"/>
<rect x="96.40" y="474.70" width="12.60" height="3.11" fill="#000"/>
<rect x="96.40" y="479.06" width="12.60" height="4.73" fill="#000"/>
<rect x="96.40" y="534.48" width="12.60" height="1.25" fill="#000"/>
<rect x="102.10" y="50.49" width="1.20" height="485.23" fill="#000"/>
<rect x="155.60" y="50.74" width="12.60" height="12.45" fill="#000"/>
<rect x="155.60" y="66.06" width="12.60" height="0.87" fill="#000"/>
<rect x="155.60" y="69.79" width="12.60" height="1.37" fill="#000"/>
<rect x="155.60" y="71.66" width="12.60" height="1.25" fill="#6a6a6a"/>
<rect x="155.60" y="72.91" width="12.60" height="1.87" fill="#000"/>
<rect x="155.60" y="84.49" width="12.60" height="1.12" fill="#000"/>
<rect x="155.60" y="87.23" width="12.60" height="1.62" fill="#000"/>
<rect x="155.60" y="89.47" width="12.60" height="1.49" fill="#000"/>
<rect x="155.60" y="93.45" width="12.60" height="1.87" fill="#000"/>
<rect x="155.60" y="97.56" width="12.60" height="5.23" fill="#000"/>
<rect x="155.60" y="105.04" width="12.60" height="2.12" fill="#000"/>
<rect x="155.60" y="107.78" width="12.60" height="1.25" fill="#6a6a6a"/>
<rect x="155.60" y="109.39" width="12.60" height="1.49" fill="#000"/>
<rect x="155.60" y="111.51" width="12.60" height="2.49" fill="#000"/>
<rect x="155.60" y="114.63" width="12.60" height="1.25" fill="#000"/>
<rect x="155.60" y="117.99" width="12.60" height="1.62" fill="#000"/>
<rect x="155.60" y="122.10" width="12.60" height="1.87" fill="#000"/>
<rect x="155.60" y="129.57" width="12.60" height="3.11" fill="#000"/>
<rect x="155.60" y="137.04" width="12.60" height="5.60" fill="#000"/>
<rect x="155.60" y="143.89" width="12.60" height="6.85" fill="#000"/>
<rect x="155.60" y="153.60" width="12.60" height="3.36" fill="#000"/>
<rect x="155.60" y="158.83" width="12.60" height="1.87" fill="#6a6a6a"/>
<rect x="155.60" y="160.70" width="12.60" height="1.87" fill="#000"/>
<rect x="155.60" y="163.82" width="12.60" height="1.87" fill="#000"/>
<rect x="155.60" y="168.17" width="12.60" height="8.09" fill="#000"/>
<rect x="155.60" y="177.51" width="12.60" height="6.23" fill="#000"/>
<rect x="155.60" y="184.61" width="12.60" height="1.62" fill="#000"/>
<rect x="155.60" y="187.23" width="12.60" height="3.36" fill="#000"/>
<rect x="155.60" y="195.57" width="12.60" height="1.25" fill="#000"/>
<rect x="155.60" y="199.68" width="12.60" height="1.74" fill="#000"/>
<rect x="155.60" y="201.42" width="12.60" height="1.00" fill="#6a6a6a"/>
<rect x="155.60" y="202.42" width="12.60" height="5.60" fill="#000"/>
<rect x="155.60" y="205.00" width="12.60" height="5.60" fill="#000"/>
<rect x="155.60" y="212.22" width="12.60" height="2.49" fill="#000"/>
<rect x="155.60" y="214.96" width="12.60" height="1.25" fill="#6a6a6a"/>
<rect x="155.60" y="216.21" width="12.60" height="1.25" fill="#000"/>
<rect x="155.60" y="219.69" width="12.60" height="5.85" fill="#000"/>
<rect x="155.60" y="226.79" width="12.60" height="1.25" fill="#000"/>
<rect x="155.60" y="231.77" width="12.60" height="2.86" fill="#000"/>
<rect x="155.60" y="235.26" width="12.60" height="13.33" fill="#000"/>
<rect x="155.60" y="248.84" width="12.60" height="1.00" fill="#6a6a6a"/>
<rect x="155.60" y="250.08" width="12.60" height="7.85" fill="#000"/>
<rect x="155.60" y="259.17" width="12.60" height="8.72" fill="#000"/>
<rect x="155.60" y="270.38" width="12.60" height="3.74" fill="#000"/>
<rect x="155.60" y="274.99" width="12.60" height="3.49" fill="#000"/>
<rect x="155.60" y="279.72" width="12.60" height="2.49" fill="#000"/>
<rect x="155.60" y="284.08" width="12.60" height="1.87" fill="#000"/>
<rect x="155.60" y="288.69" width="12.60" height="3.49" fill="#000"/>
<rect x="155.60" y="294.04" width="12.60" height="24.03" fill="#000"/>
<rect x="155.60" y="318.33" width="12.60" height="1.25" fill="#6a6a6a"/>
<rect x="155.60" y="319.57" width="12.60" height="4.36" fill="#000"/>
<rect x="155.60" y="325.80" width="12.60" height="8.09" fill="#000"/>
<rect x="155.60" y="338.87" width="12.60" height="1.87" fill="#6a6a6a"/>
<rect x="155.60" y="340.74" width="12.60" height="0.87" fill="#000"/>
<rect x="155.60" y="342.24" width="12.60" height="2.86" fill="#000"/>
<rect x="155.60" y="348.84" width="12.60" height="2.49" fill="#000"/>
<rect x="155.60" y="352.57" width="12.60" height="1.87" fill="#000"/>
<rect x="155.60" y="355.68" width="12.60" height="1.87" fill="#000"/>
<rect x="155.60" y="359.17" width="12.60" height="5.85" fill="#000"/>
<rect x="155.60" y="362.00" width="12.60" height="13.95" fill="#000"/>
<rect x="155.60" y="376.94" width="12.60" height="1.25" fill="#000"/>
<rect x="155.60" y="380.06" width="12.60" height="18.68" fill="#000"/>
<rect x="155.60" y="399.98" width="12.60" height="3.74" fill="#000"/>
<rect x="155.60" y="404.34" width="12.60" height="1.25" fill="#6a6a6a"/>
<rect x="155.60" y="405.59" width="12.60" height="6.85" fill="#000"/>
<rect x="155.60" y="413.06" width="12.60" height="1.87" fill="#000"/>
<rect x="155.60" y="417.42" width="12.60" height="6.85" fill="#000"/>
<rect x="155.60" y="426.13" width="12.60" height="5.85" fill="#000"/>
<rect x="155.60" y="432.36" width="12.60" height="1.25" fill="#6a6a6a"/>
<rect x="155.60" y="433.98" width="12.60" height="9.59" fill="#000"/>
<rect x="155.60" y="444.81" width="12.60" height="4.98" fill="#000"/>
<rect x="155.60" y="450.67" width="12.60" height="1.99" fill="#000"/>
<rect x="155.60" y="453.53" width="12.60" height="2.12" fill="#000"/>
<rect x="155.60" y="459.14" width="12.60" height="3.11" fill="#000"/>
<rect x="155.60" y="466.61" width="12.60" height="1.25" fill="#000"/>
<rect x="161.30" y="50.74" width="1.20" height="417.11" fill="#000"/>
<rect x="214.80" y="50.74" width="12.60" height="4.98" fill="#000"/>
<rect x="214.80" y="56.09" width="12.60" height="2.86" fill="#6a6a6a"/>
<rect x="214.80" y="58.96" width="12.60" height="1.00" fill="#000"/>
<rect x="214.80" y="61.95" width="12.60" height="2.86" fill="#000"/>
<rect x="214.80" y="69.17" width="12.60" height="1.25" fill="#000"/>
<rect x="214.80" y="71.91" width="12.60" height="3.74" fill="#000"/>
<rect x="214.80" y="76.64" width="12.60" height="3.11" fill="#000"/>
<rect x="214.80" y="84.11" width="12.60" height="1.49" fill="#000"/>
<rect x="214.80" y="87.60" width="12.60" height="6.48" fill="#000"/>
<rect x="214.80" y="95.07" width="12.60" height="1.25" fill="#000"/>
<rect x="214.80" y="98.44" width="12.60" height="1.87" fill="#000"/>
<rect x="214.80" y="102.79" width="12.60" height="1.25" fill="#000"/>
<rect x="214.80" y="105.91" width="12.60" height="3.11" fill="#000"/>
<rect x="214.80" y="111.51" width="12.60" height="1.87" fill="#000"/>
<rect x="214.80" y="114.00" width="12.60" height="3.36" fill="#000"/>
<rect x="214.80" y="126.46" width="12.60" height="13.08" fill="#000"/>
<rect x="214.80" y="140.15" width="12.60" height="1.25" fill="#000"/>
<rect x="214.80" y="142.89" width="12.60" height="2.86" fill="#000"/>
<rect x="214.80" y="146.13" width="12.60" height="0.87" fill="#6a6a6a"/>
<rect x="214.80" y="147.00" width="12.60" height="1.25" fill="#000"/>
<rect x="214.80" y="151.99" width="12.60" height="1.87" fill="#000"/>
<rect x="214.80" y="157.59" width="12.60" height="1.87" fill="#000"/>
<rect x="214.80" y="162.57" width="12.60" height="28.02" fill="#000"/>
<rect x="214.80" y="191.46" width="12.60" height="3.49" fill="#000"/>
<rect x="214.80" y="196.82" width="12.60" height="11.21" fill="#000"/>
<rect x="214.80" y="205.00" width="12.60" height="1.87" fill="#000"/>
<rect x="214.80" y="209.36" width="12.60" height="1.62" fill="#000"/>
<rect x="214.80" y="211.85" width="12.60" height="19.93" fill="#000"/>
<rect x="214.80" y="233.02" width="12.60" height="1.62" fill="#000"/>
<rect x="214.80" y="235.26" width="12.60" height="1.49" fill="#000"/>
<rect x="214.80" y="241.11" width="12.60" height="3.49" fill="#000"/>
<rect x="214.80" y="246.10" width="12.60" height="1.49" fill="#000"/>
<rect x="214.80" y="248.34" width="12.60" height="2.49" fill="#000"/>
<rect x="214.80" y="251.45" width="12.60" height="1.49" fill="#000"/>
<rect x="214.80" y="254.81" width="12.60" height="1.25" fill="#000"/>
<rect x="214.80" y="257.30" width="12.60" height="2.49" fill="#000"/>
<rect x="214.80" y="261.04" width="12.60" height="2.49" fill="#000"/>
<rect x="214.80" y="265.02" width="12.60" height="1.99" fill="#000"/>
<rect x="214.80" y="270.75" width="12.60" height="2.12" fill="#000"/>
<rect x="214.80" y="276.23" width="12.60" height="3.49" fill="#000"/>
<rect x="214.80" y="279.72" width="12.60" height="1.25" fill="#6a6a6a"/>
<rect x="214.80" y="280.97" width="12.60" height="3.74" fill="#000"/>
<rect x="214.80" y="286.57" width="12.60" height="4.98" fill="#000"/>
<rect x="214.80" y="291.92" width="12.60" height="1.74" fill="#6a6a6a"/>
<rect x="214.80" y="293.67" width="12.60" height="1.62" fill="#000"/>
<rect x="214.80" y="295.91" width="12.60" height="9.34" fill="#000"/>
<rect x="214.80" y="307.12" width="12.60" height="1.00" fill="#000"/>
<rect x="214.80" y="308.11" width="12.60" height="2.12" fill="#6a6a6a"/>
<rect x="214.80" y="313.97" width="12.60" height="13.70" fill="#000"/>
<rect x="214.80" y="328.29" width="12.60" height="1.25" fill="#000"/>
<rect x="214.80" y="330.78" width="12.60" height="2.49" fill="#000"/>
<rect x="214.80" y="334.76" width="12.60" height="1.99" fill="#000"/>
<rect x="214.80" y="337.38" width="12.60" height="3.99" fill="#000"/>
<rect x="214.80" y="348.21" width="12.60" height="1.87" fill="#000"/>
<rect x="214.80" y="356.31" width="12.60" height="3.11" fill="#000"/>
<rect x="214.80" y="371.96" width="12.60" height="2.24" fill="#000"/>
<rect x="214.80" y="375.08" width="12.60" height="1.62" fill="#000"/>
<rect x="214.80" y="377.57" width="12.60" height="1.87" fill="#000"/>
<rect x="214.80" y="380.68" width="12.60" height="1.87" fill="#000"/>
<rect x="214.80" y="383.17" width="12.60" height="1.87" fill="#000"/>
<rect x="214.80" y="386.91" width="12.60" height="8.09" fill="#000"/>
<rect x="214.80" y="395.62" width="12.60" height="2.74" fill="#6a6a6a"/>
<rect x="214.80" y="401.60" width="12.60" height="10.21" fill="#000"/>
<rect x="214.80" y="413.06" width="12.60" height="6.23" fill="#000"/>
<rect x="214.80" y="421.53" width="12.60" height="1.00" fill="#000"/>
<rect x="214.80" y="423.64" width="12.60" height="3.74" fill="#000"/>
<rect x="214.80" y="429.00" width="12.60" height="8.97" fill="#000"/>
<rect x="214.80" y="439.21" width="12.60" height="11.83" fill="#000"/>
<rect x="214.80" y="452.29" width="12.60" height="3.74" fill="#000"/>
<rect x="214.80" y="456.89" width="12.60" height="14.69" fill="#000"/>
<rect x="214.80" y="472.83" width="12.60" height="1.87" fill="#000"/>
<rect x="214.80" y="478.44" width="12.60" height="2.49" fill="#000"/>
<rect x="214.80" y="481.55" width="12.60" height="1.25" fill="#6a6a6a"/>
<rect x="214.80" y="483.42" width="12.60" height="18.06" fill="#000"/>
<rect x="214.80" y="502.72" width="12.60" height="1.25" fill="#000"/>
<rect x="214.80" y="510.19" width="12.60" height="3.11" fill="#000"/>
<rect x="220.50" y="50.74" width="1.20" height="462.57" fill="#000"/>
<rect x="274.00" y="50.49" width="12.60" height="1.25" fill="#000"/>
<rect x="274.00" y="52.48" width="12.60" height="1.99" fill="#6a6a6a"/>
<rect x="274.00" y="57.71" width="12.60" height="3.36" fill="#000"/>
<rect x="274.00" y="64.81" width="12.60" height="1.87" fill="#000"/>
<rect x="274.00" y="71.66" width="12.60" height="2.74" fill="#000"/>
<rect x="274.00" y="74.77" width="12.60" height="4.36" fill="#6a6a6a"/>
<rect x="274.00" y="85.98" width="12.60" height="2.86" fill="#000"/>
<rect x="274.00" y="89.10" width="12.60" height="1.25" fill="#6a6a6a"/>
<rect x="274.00" y="90.34" width="12.60" height="5.98" fill="#000"/>
<rect x="274.00" y="96.57" width="12.60" height="1.25" fill="#6a6a6a"/>
<rect x="274.00" y="97.81" width="12.60" height="1.87" fill="#000"/>
<rect x="274.00" y="100.93" width="12.60" height="2.49" fill="#000"/>
<rect x="274.00" y="104.04" width="12.60" height="1.49" fill="#6a6a6a"/>
<rect x="274.00" y="105.53" width="12.60" height="4.11" fill="#000"/>
<rect x="274.00" y="110.27" width="12.60" height="1.49" fill="#6a6a6a"/>
<rect x="274.00" y="112.13" width="12.60" height="1.87" fill="#000"/>
<rect x="274.00" y="115.25" width="12.60" height="3.74" fill="#000"/>
<rect x="274.00" y="121.47" width="12.60" height="3.11" fill="#000"/>
<rect x="274.00" y="125.83" width="12.60" height="1.87" fill="#000"/>
<rect x="274.00" y="130.81" width="12.60" height="1.00" fill="#000"/>
<rect x="274.00" y="136.42" width="12.60" height="1.49" fill="#6a6a6a"/>
<rect x="274.00" y="139.53" width="12.60" height="2.49" fill="#000"/>
<rect x="274.00" y="145.14" width="12.60" height="2.49" fill="#000"/>
<rect x="274.00" y="151.36" width="12.60" height="2.24" fill="#000"/>
<rect x="274.00" y="156.97" width="12.60" height="8.72" fill="#000"/>
<rect x="274.00" y="168.17" width="12.60" height="2.49" fill="#000"/>
<rect x="274.00" y="171.54" width="12.60" height="1.62" fill="#000"/>
<rect x="274.00" y="177.51" width="12.60" height="2.49" fill="#6a6a6a"/>
<rect x="274.00" y="184.99" width="12.60" height="3.74" fill="#6a6a6a"/>
<rect x="274.00" y="196.82" width="12.60" height="3.74" fill="#000"/>
<rect x="274.00" y="205.53" width="12.60" height="2.49" fill="#000"/>
<rect x="274.00" y="206.49" width="12.60" height="2.24" fill="#000"/>
<rect x="274.00" y="210.60" width="12.60" height="2.86" fill="#000"/>
<rect x="274.00" y="221.81" width="12.60" height="3.11" fill="#000"/>
<rect x="274.00" y="226.17" width="12.60" height="1.87" fill="#000"/>
<rect x="274.00" y="228.66" width="12.60" height="1.25" fill="#6a6a6a"/>
<rect x="274.00" y="230.53" width="12.60" height="2.49" fill="#000"/>
<rect x="274.00" y="236.13" width="12.60" height="1.49" fill="#000"/>
<rect x="274.00" y="237.63" width="12.60" height="1.00" fill="#6a6a6a"/>
<rect x="274.00" y="238.62" width="12.60" height="1.49" fill="#000"/>
<rect x="274.00" y="247.34" width="12.60" height="4.98" fill="#000"/>
<rect x="274.00" y="255.06" width="12.60" height="5.35" fill="#000"/>
<rect x="274.00" y="261.04" width="12.60" height="1.25" fill="#6a6a6a"/>
<rect x="274.00" y="262.91" width="12.60" height="3.11" fill="#000"/>
<rect x="274.00" y="267.27" width="12.60" height="1.87" fill="#000"/>
<rect x="274.00" y="272.87" width="12.60" height="1.87" fill="#000"/>
<rect x="274.00" y="275.98" width="12.60" height="2.49" fill="#000"/>
<rect x="274.00" y="282.21" width="12.60" height="2.49" fill="#000"/>
<rect x="274.00" y="285.32" width="12.60" height="1.25" fill="#6a6a6a"/>
<rect x="274.00" y="287.19" width="12.60" height="9.96" fill="#000"/>
<rect x="274.00" y="302.14" width="12.60" height="1.87" fill="#000"/>
<rect x="274.00" y="304.63" width="12.60" height="1.00" fill="#6a6a6a"/>
<rect x="274.00" y="306.49" width="12.60" height="1.25" fill="#000"/>
<rect x="274.00" y="308.99" width="12.60" height="4.36" fill="#000"/>
<rect x="274.00" y="315.21" width="12.60" height="1.00" fill="#000"/>
<rect x="274.00" y="317.70" width="12.60" height="1.25" fill="#000"/>
<rect x="274.00" y="330.16" width="12.60" height="3.74" fill="#000"/>
<rect x="274.00" y="337.00" width="12.60" height="3.74" fill="#000"/>
<rect x="274.00" y="350.08" width="12.60" height="8.09" fill="#000"/>
<rect x="274.00" y="358.80" width="12.60" height="6.23" fill="#000"/>
<rect x="274.00" y="362.00" width="12.60" height="5.60" fill="#000"/>
<rect x="279.70" y="50.49" width="1.20" height="317.11" fill="#000"/>
<rect x="333.20" y="50.74" width="12.60" height="5.35" fill="#000"/>
<rect x="333.20" y="57.34" width="12.60" height="2.49" fill="#000"/>
<rect x="333.20" y="60.45" width="12.60" height="3.11" fill="#000"/>
<rect x="333.20" y="65.43" width="12.60" height="3.99" fill="#6a6a6a"/>
<rect x="333.20" y="69.79" width="12.60" height="1.87" fill="#000"/>
<rect x="333.20" y="72.28" width="12.60" height="2.12" fill="#6a6a6a"/>
<rect x="333.20" y="74.77" width="12.60" height="3.11" fill="#000"/>
<rect x="333.20" y="80.13" width="12.60" height="4.61" fill="#000"/>
<rect x="333.20" y="87.23" width="12.60" height="1.87" fill="#000"/>
<rect x="333.20" y="90.96" width="12.60" height="2.49" fill="#000"/>
<rect x="333.20" y="95.32" width="12.60" height="3.74" fill="#000"/>
<rect x="333.20" y="100.05" width="12.60" height="2.74" fill="#000"/>
<rect x="333.20" y="102.79" width="12.60" height="2.24" fill="#6a6a6a"/>
<rect x="333.20" y="108.40" width="12.60" height="1.62" fill="#000"/>
<rect x="333.20" y="114.00" width="12.60" height="3.74" fill="#000"/>
<rect x="333.20" y="120.23" width="12.60" height="5.60" fill="#000"/>
<rect x="333.20" y="128.95" width="12.60" height="2.49" fill="#000"/>
<rect x="333.20" y="132.06" width="12.60" height="3.74" fill="#6a6a6a"/>
<rect x="333.20" y="135.80" width="12.60" height="4.98" fill="#000"/>
<rect x="333.20" y="142.02" width="12.60" height="1.87" fill="#000"/>
<rect x="333.20" y="144.51" width="12.60" height="2.49" fill="#000"/>
<rect x="333.20" y="148.25" width="12.60" height="3.74" fill="#000"/>
<rect x="333.20" y="156.34" width="12.60" height="3.74" fill="#000"/>
<rect x="333.20" y="163.19" width="12.60" height="2.49" fill="#000"/>
<rect x="333.20" y="167.55" width="12.60" height="1.87" fill="#000"/>
<rect x="333.20" y="171.29" width="12.60" height="10.59" fill="#000"/>
<rect x="333.20" y="184.36" width="12.60" height="1.25" fill="#000"/>
<rect x="333.20" y="186.23" width="12.60" height="1.87" fill="#6a6a6a"/>
<rect x="333.20" y="188.72" width="12.60" height="2.24" fill="#000"/>
<rect x="333.20" y="192.46" width="12.60" height="1.87" fill="#000"/>
<rect x="333.20" y="198.68" width="12.60" height="2.24" fill="#000"/>
<rect x="333.20" y="200.93" width="12.60" height="1.25" fill="#6a6a6a"/>
<rect x="333.20" y="202.17" width="12.60" height="5.85" fill="#000"/>
<rect x="333.20" y="205.00" width="12.60" height="2.57" fill="#000"/>
<rect x="333.20" y="208.85" width="12.60" height="2.57" fill="#6a6a6a"/>
<rect x="333.20" y="212.06" width="12.60" height="4.49" fill="#000"/>
<rect x="333.20" y="217.84" width="12.60" height="1.28" fill="#000"/>
<rect x="333.20" y="221.69" width="12.60" height="1.54" fill="#000"/>
<rect x="333.20" y="223.23" width="12.60" height="1.03" fill="#6a6a6a"/>
<rect x="333.20" y="224.26" width="12.60" height="1.28" fill="#000"/>
<rect x="333.20" y="227.47" width="12.60" height="7.70" fill="#000"/>
<rect x="333.20" y="237.74" width="12.60" height="15.41" fill="#000"/>
<rect x="333.20" y="257.00" width="12.60" height="17.98" fill="#000"/>
<rect x="333.20" y="277.55" width="12.60" height="2.95" fill="#000"/>
<rect x="333.20" y="280.50" width="12.60" height="2.82" fill="#6a6a6a"/>
<rect x="333.20" y="285.89" width="12.60" height="1.93" fill="#000"/>
<rect x="333.20" y="290.39" width="12.60" height="4.49" fill="#000"/>
<rect x="333.20" y="296.17" width="12.60" height="2.57" fill="#000"/>
<rect x="333.20" y="303.23" width="12.60" height="8.35" fill="#000"/>
<rect x="333.20" y="313.50" width="12.60" height="1.93" fill="#000"/>
<rect x="333.20" y="317.35" width="12.60" height="1.93" fill="#000"/>
<rect x="333.20" y="321.20" width="12.60" height="1.28" fill="#000"/>
<rect x="333.20" y="323.77" width="12.60" height="10.27" fill="#000"/>
<rect x="333.20" y="338.54" width="12.60" height="8.35" fill="#000"/>
<rect x="333.20" y="348.81" width="12.60" height="2.57" fill="#000"/>
<rect x="333.20" y="352.66" width="12.60" height="1.93" fill="#6a6a6a"/>
<rect x="333.20" y="355.23" width="12.60" height="1.93" fill="#000"/>
<rect x="333.20" y="359.08" width="12.60" height="1.28" fill="#000"/>
<rect x="333.20" y="361.65" width="12.60" height="1.28" fill="#000"/>
<rect x="333.20" y="364.22" width="12.60" height="1.93" fill="#000"/>
<rect x="338.90" y="50.74" width="1.20" height="315.41" fill="#000"/>
<rect x="392.40" y="51.74" width="12.60" height="1.00" fill="#000"/>
<rect x="392.40" y="53.60" width="12.60" height="4.61" fill="#000"/>
<rect x="392.40" y="63.94" width="12.60" height="1.49" fill="#000"/>
<rect x="392.40" y="67.30" width="12.60" height="1.25" fill="#000"/>
<rect x="392.40" y="72.91" width="12.60" height="9.34" fill="#000"/>
<rect x="392.40" y="84.74" width="12.60" height="3.74" fill="#000"/>
<rect x="392.40" y="89.47" width="12.60" height="1.00" fill="#000"/>
<rect x="392.40" y="91.34" width="12.60" height="3.99" fill="#000"/>
<rect x="392.40" y="97.56" width="12.60" height="5.23" fill="#000"/>
<rect x="392.40" y="104.66" width="12.60" height="1.25" fill="#000"/>
<rect x="392.40" y="108.77" width="12.60" height="1.25" fill="#000"/>
<rect x="392.40" y="110.89" width="12.60" height="5.60" fill="#000"/>
<rect x="392.40" y="124.59" width="12.60" height="1.25" fill="#000"/>
<rect x="392.40" y="129.57" width="12.60" height="1.25" fill="#000"/>
<rect x="392.40" y="132.43" width="12.60" height="7.72" fill="#000"/>
<rect x="392.40" y="141.15" width="12.60" height="27.40" fill="#000"/>
<rect x="392.40" y="170.04" width="12.60" height="7.47" fill="#000"/>
<rect x="392.40" y="178.76" width="12.60" height="8.09" fill="#000"/>
<rect x="392.40" y="188.47" width="12.60" height="1.74" fill="#6a6a6a"/>
<rect x="392.40" y="199.93" width="12.60" height="8.09" fill="#000"/>
<rect x="392.40" y="205.00" width="12.60" height="11.58" fill="#000"/>
<rect x="392.40" y="224.75" width="12.60" height="10.21" fill="#000"/>
<rect x="392.40" y="237.00" width="12.60" height="3.40" fill="#000"/>
<rect x="392.40" y="246.54" width="12.60" height="12.26" fill="#000"/>
<rect x="392.40" y="259.75" width="12.60" height="3.81" fill="#000"/>
<rect x="392.40" y="267.64" width="12.60" height="3.40" fill="#000"/>
<rect x="392.40" y="273.09" width="12.60" height="2.72" fill="#000"/>
<rect x="392.40" y="276.50" width="12.60" height="1.36" fill="#6a6a6a"/>
<rect x="392.40" y="277.86" width="12.60" height="2.04" fill="#000"/>
<rect x="392.40" y="280.58" width="12.60" height="2.04" fill="#6a6a6a"/>
<rect x="392.40" y="283.99" width="12.60" height="7.49" fill="#000"/>
<rect x="392.40" y="292.16" width="12.60" height="3.00" fill="#000"/>
<rect x="392.40" y="301.69" width="12.60" height="2.72" fill="#000"/>
<rect x="392.40" y="309.18" width="12.60" height="4.77" fill="#000"/>
<rect x="392.40" y="314.63" width="12.60" height="3.40" fill="#6a6a6a"/>
<rect x="392.40" y="318.03" width="12.60" height="6.81" fill="#000"/>
<rect x="392.40" y="325.52" width="12.60" height="2.04" fill="#000"/>
<rect x="392.40" y="328.93" width="12.60" height="2.72" fill="#000"/>
<rect x="392.40" y="333.01" width="12.60" height="1.36" fill="#000"/>
<rect x="392.40" y="335.74" width="12.60" height="2.04" fill="#000"/>
<rect x="392.40" y="339.14" width="12.60" height="2.04" fill="#000"/>
<rect x="392.40" y="343.23" width="12.60" height="12.26" fill="#000"/>
<rect x="392.40" y="356.85" width="12.60" height="6.13" fill="#000"/>
<rect x="392.40" y="365.70" width="12.60" height="2.04" fill="#000"/>
<rect x="392.40" y="369.78" width="12.60" height="1.36" fill="#000"/>
<rect x="392.40" y="373.87" width="12.60" height="2.72" fill="#000"/>
<rect x="398.10" y="51.74" width="1.20" height="324.86" fill="#000"/>
<rect x="451.60" y="50.49" width="12.60" height="4.36" fill="#000"/>
<rect x="451.60" y="55.47" width="12.60" height="6.85" fill="#000"/>
<rect x="451.60" y="63.94" width="12.60" height="2.99" fill="#000"/>
<rect x="451.60" y="68.92" width="12.60" height="4.61" fill="#6a6a6a"/>
<rect x="451.60" y="73.53" width="12.60" height="6.23" fill="#000"/>
<rect x="451.60" y="84.36" width="12.60" height="1.62" fill="#000"/>
<rect x="451.60" y="88.47" width="12.60" height="1.87" fill="#000"/>
<rect x="451.60" y="91.59" width="12.60" height="1.87" fill="#000"/>
<rect x="451.60" y="93.83" width="12.60" height="1.49" fill="#6a6a6a"/>
<rect x="451.60" y="95.32" width="12.60" height="4.98" fill="#000"/>
<rect x="451.60" y="100.93" width="12.60" height="1.87" fill="#6a6a6a"/>
<rect x="451.60" y="103.42" width="12.60" height="1.25" fill="#000"/>
<rect x="451.60" y="105.53" width="12.60" height="2.24" fill="#000"/>
<rect x="451.60" y="125.83" width="12.60" height="1.87" fill="#000"/>
<rect x="451.60" y="129.94" width="12.60" height="5.85" fill="#000"/>
<rect x="451.60" y="142.89" width="12.60" height="9.46" fill="#000"/>
<rect x="451.60" y="156.34" width="12.60" height="1.87" fill="#000"/>
<rect x="451.60" y="159.46" width="12.60" height="8.09" fill="#000"/>
<rect x="451.60" y="168.80" width="12.60" height="4.36" fill="#000"/>
<rect x="451.60" y="176.27" width="12.60" height="1.87" fill="#000"/>
<rect x="451.60" y="178.51" width="12.60" height="1.25" fill="#6a6a6a"/>
<rect x="451.60" y="180.00" width="12.60" height="9.71" fill="#000"/>
<rect x="451.60" y="189.72" width="12.60" height="1.49" fill="#6a6a6a"/>
<rect x="451.60" y="191.21" width="12.60" height="3.74" fill="#000"/>
<rect x="451.60" y="199.31" width="12.60" height="3.11" fill="#000"/>
<rect x="451.60" y="203.04" width="12.60" height="3.11" fill="#000"/>
<rect x="451.60" y="205.00" width="12.60" height="1.49" fill="#000"/>
<rect x="451.60" y="207.49" width="12.60" height="4.36" fill="#000"/>
<rect x="451.60" y="212.47" width="12.60" height="1.25" fill="#6a6a6a"/>
<rect x="451.60" y="213.97" width="12.60" height="3.49" fill="#000"/>
<rect x="451.60" y="218.70" width="12.60" height="4.98" fill="#000"/>
<rect x="451.60" y="225.55" width="12.60" height="3.11" fill="#000"/>
<rect x="451.60" y="229.28" width="12.60" height="4.98" fill="#000"/>
<rect x="451.60" y="236.13" width="12.60" height="6.23" fill="#000"/>
<rect x="451.60" y="245.10" width="12.60" height="2.86" fill="#000"/>
<rect x="451.60" y="249.21" width="12.60" height="1.87" fill="#000"/>
<rect x="451.60" y="251.33" width="12.60" height="1.62" fill="#6a6a6a"/>
<rect x="451.60" y="252.95" width="12.60" height="2.49" fill="#000"/>
<rect x="451.60" y="256.68" width="12.60" height="1.25" fill="#000"/>
<rect x="451.60" y="258.55" width="12.60" height="1.25" fill="#6a6a6a"/>
<rect x="451.60" y="260.42" width="12.60" height="1.25" fill="#000"/>
<rect x="451.60" y="262.53" width="12.60" height="1.00" fill="#000"/>
<rect x="451.60" y="265.40" width="12.60" height="6.85" fill="#000"/>
<rect x="451.60" y="274.74" width="12.60" height="1.87" fill="#000"/>
<rect x="451.60" y="279.10" width="12.60" height="1.25" fill="#000"/>
<rect x="451.60" y="284.45" width="12.60" height="1.25" fill="#000"/>
<rect x="451.60" y="287.19" width="12.60" height="1.49" fill="#000"/>
<rect x="451.60" y="291.92" width="12.60" height="1.25" fill="#000"/>
<rect x="451.60" y="297.78" width="12.60" height="1.25" fill="#000"/>
<rect x="451.60" y="299.65" width="12.60" height="4.98" fill="#6a6a6a"/>
<rect x="451.60" y="305.25" width="12.60" height="1.87" fill="#000"/>
<rect x="451.60" y="307.74" width="12.60" height="4.36" fill="#000"/>
<rect x="451.60" y="313.97" width="12.60" height="1.25" fill="#000"/>
<rect x="451.60" y="316.83" width="12.60" height="2.12" fill="#000"/>
<rect x="451.60" y="320.82" width="12.60" height="1.87" fill="#000"/>
<rect x="451.60" y="327.04" width="12.60" height="2.49" fill="#000"/>
<rect x="451.60" y="330.16" width="12.60" height="8.72" fill="#000"/>
<rect x="451.60" y="343.85" width="12.60" height="1.87" fill="#000"/>
<rect x="451.60" y="349.21" width="12.60" height="1.49" fill="#000"/>
<rect x="451.60" y="351.95" width="12.60" height="2.49" fill="#000"/>
<rect x="451.60" y="355.68" width="12.60" height="3.74" fill="#000"/>
<rect x="451.60" y="359.42" width="12.60" height="1.87" fill="#6a6a6a"/>
<rect x="451.60" y="361.91" width="12.60" height="3.11" fill="#000"/>
<rect x="451.60" y="362.00" width="12.60" height="8.58" fill="#000"/>
<rect x="451.60" y="375.97" width="12.60" height="0.98" fill="#000"/>
<rect x="451.60" y="377.44" width="12.60" height="0.98" fill="#6a6a6a"/>
<rect x="451.60" y="379.16" width="12.60" height="3.43" fill="#000"/>
<rect x="451.60" y="386.75" width="12.60" height="1.23" fill="#000"/>
<rect x="451.60" y="396.07" width="12.60" height="1.47" fill="#000"/>
<rect x="451.60" y="398.27" width="12.60" height="1.47" fill="#000"/>
<rect x="451.60" y="401.46" width="12.60" height="1.72" fill="#000"/>
<rect x="451.60" y="406.12" width="12.60" height="4.17" fill="#000"/>
<rect x="451.60" y="419.35" width="12.60" height="1.47" fill="#000"/>
<rect x="457.30" y="50.49" width="1.20" height="370.33" fill="#000"/>
<rect x="510.80" y="50.49" width="12.60" height="2.49" fill="#000"/>
<rect x="510.80" y="53.98" width="12.60" height="1.74" fill="#000"/>
<rect x="510.80" y="57.34" width="12.60" height="6.23" fill="#000"/>
<rect x="510.80" y="70.42" width="12.60" height="4.98" fill="#000"/>
<rect x="510.80" y="79.13" width="12.60" height="7.47" fill="#000"/>
<rect x="510.80" y="94.08" width="12.60" height="1.87" fill="#000"/>
<rect x="510.80" y="97.81" width="12.60" height="4.36" fill="#000"/>
<rect x="510.80" y="102.79" width="12.60" height="8.09" fill="#000"/>
<rect x="510.80" y="111.51" width="12.60" height="1.87" fill="#6a6a6a"/>
<rect x="510.80" y="114.00" width="12.60" height="2.49" fill="#000"/>
<rect x="510.80" y="120.23" width="12.60" height="3.11" fill="#000"/>
<rect x="510.80" y="125.83" width="12.60" height="7.47" fill="#000"/>
<rect x="510.80" y="134.18" width="12.60" height="3.49" fill="#000"/>
<rect x="510.80" y="138.91" width="12.60" height="2.49" fill="#000"/>
<rect x="510.80" y="144.51" width="12.60" height="3.11" fill="#000"/>
<rect x="510.80" y="155.10" width="12.60" height="3.74" fill="#000"/>
<rect x="510.80" y="160.08" width="12.60" height="1.87" fill="#000"/>
<rect x="510.80" y="163.19" width="12.60" height="31.76" fill="#000"/>
<rect x="510.80" y="196.82" width="12.60" height="11.21" fill="#000"/>
<rect x="510.80" y="205.00" width="12.60" height="2.02" fill="#000"/>
<rect x="510.80" y="208.03" width="12.60" height="1.52" fill="#6a6a6a"/>
<rect x="510.80" y="210.56" width="12.60" height="4.05" fill="#000"/>
<rect x="510.80" y="218.15" width="12.60" height="4.55" fill="#000"/>
<rect x="510.80" y="226.24" width="12.60" height="5.56" fill="#000"/>
<rect x="510.80" y="232.82" width="12.60" height="1.52" fill="#6a6a6a"/>
<rect x="510.80" y="240.41" width="12.60" height="1.21" fill="#000"/>
<rect x="510.80" y="244.25" width="12.60" height="1.42" fill="#000"/>
<rect x="510.80" y="250.02" width="12.60" height="5.56" fill="#000"/>
<rect x="510.80" y="268.94" width="12.60" height="1.32" fill="#000"/>
<rect x="510.80" y="273.79" width="12.60" height="4.05" fill="#000"/>
<rect x="510.80" y="278.34" width="12.60" height="1.52" fill="#6a6a6a"/>
<rect x="510.80" y="280.67" width="12.60" height="2.23" fill="#000"/>
<rect x="510.80" y="285.93" width="12.60" height="6.07" fill="#000"/>
<rect x="510.80" y="294.53" width="12.60" height="6.58" fill="#000"/>
<rect x="510.80" y="302.12" width="12.60" height="3.03" fill="#6a6a6a"/>
<rect x="510.80" y="305.66" width="12.60" height="4.55" fill="#000"/>
<rect x="510.80" y="316.28" width="12.60" height="9.61" fill="#000"/>
<rect x="510.80" y="328.42" width="12.60" height="1.01" fill="#000"/>
<rect x="516.50" y="50.49" width="1.20" height="278.94" fill="#000"/>
<rect x="570.00" y="51.35" width="12.60" height="18.86" fill="#000"/>
<rect x="570.00" y="73.01" width="12.60" height="5.14" fill="#6a6a6a"/>
<rect x="570.00" y="80.95" width="12.60" height="1.87" fill="#000"/>
<rect x="570.00" y="86.08" width="12.60" height="1.40" fill="#6a6a6a"/>
<rect x="570.00" y="90.28" width="12.60" height="1.87" fill="#000"/>
<rect x="570.00" y="94.95" width="12.60" height="5.14" fill="#000"/>
<rect x="570.00" y="101.02" width="12.60" height="1.40" fill="#000"/>
<rect x="570.00" y="103.36" width="12.60" height="2.80" fill="#000"/>
<rect x="570.00" y="107.09" width="12.60" height="8.40" fill="#000"/>
<rect x="570.00" y="120.63" width="12.60" height="11.67" fill="#000"/>
<rect x="570.00" y="135.10" width="12.60" height="2.80" fill="#6a6a6a"/>
<rect x="570.00" y="137.90" width="12.60" height="2.33" fill="#000"/>
<rect x="570.00" y="143.04" width="12.60" height="2.80" fill="#000"/>
<rect x="570.00" y="146.77" width="12.60" height="8.87" fill="#000"/>
<rect x="570.00" y="157.98" width="12.60" height="7.00" fill="#000"/>
<rect x="570.00" y="160.00" width="12.60" height="5.82" fill="#000"/>
<rect x="570.00" y="167.16" width="12.60" height="7.61" fill="#000"/>
<rect x="570.00" y="178.80" width="12.60" height="2.24" fill="#000"/>
<rect x="570.00" y="181.49" width="12.60" height="0.90" fill="#6a6a6a"/>
<rect x="570.00" y="182.83" width="12.60" height="0.90" fill="#000"/>
<rect x="570.00" y="185.51" width="12.60" height="4.92" fill="#000"/>
<rect x="570.00" y="190.89" width="12.60" height="1.52" fill="#6a6a6a"/>
<rect x="570.00" y="192.95" width="12.60" height="1.97" fill="#000"/>
<rect x="570.00" y="195.99" width="12.60" height="3.58" fill="#000"/>
<rect x="570.00" y="202.08" width="12.60" height="5.82" fill="#000"/>
<rect x="570.00" y="208.79" width="12.60" height="2.24" fill="#000"/>
<rect x="570.00" y="211.92" width="12.60" height="3.58" fill="#000"/>
<rect x="570.00" y="216.85" width="12.60" height="3.31" fill="#000"/>
<rect x="570.00" y="223.12" width="12.60" height="1.34" fill="#6a6a6a"/>
<rect x="570.00" y="226.70" width="12.60" height="7.61" fill="#000"/>
<rect x="570.00" y="237.44" width="12.60" height="3.13" fill="#000"/>
<rect x="570.00" y="243.71" width="12.60" height="3.58" fill="#000"/>
<rect x="570.00" y="249.08" width="12.60" height="3.13" fill="#000"/>
<rect x="570.00" y="252.66" width="12.60" height="0.90" fill="#6a6a6a"/>
<rect x="570.00" y="253.55" width="12.60" height="1.34" fill="#000"/>
<rect x="570.00" y="266.54" width="12.60" height="4.48" fill="#000"/>
<rect x="575.70" y="51.35" width="1.20" height="219.66" fill="#000"/>
<rect x="629.20" y="50.79" width="12.60" height="1.21" fill="#000"/>
<rect x="629.20" y="52.00" width="12.60" height="1.21" fill="#6a6a6a"/>
<rect x="629.20" y="53.22" width="12.60" height="8.59" fill="#000"/>
<rect x="629.20" y="61.99" width="12.60" height="1.31" fill="#6a6a6a"/>
<rect x="629.20" y="63.30" width="12.60" height="16.25" fill="#000"/>
<rect x="629.20" y="86.08" width="12.60" height="4.67" fill="#000"/>
<rect x="629.20" y="93.09" width="12.60" height="0.93" fill="#000"/>
<rect x="629.20" y="95.42" width="12.60" height="0.93" fill="#000"/>
<rect x="629.20" y="96.54" width="12.60" height="1.21" fill="#6a6a6a"/>
<rect x="629.20" y="98.22" width="12.60" height="5.60" fill="#000"/>
<rect x="629.20" y="110.36" width="12.60" height="4.20" fill="#000"/>
<rect x="629.20" y="115.49" width="12.60" height="1.40" fill="#000"/>
<rect x="629.20" y="117.64" width="12.60" height="2.05" fill="#000"/>
<rect x="629.20" y="121.10" width="12.60" height="1.40" fill="#6a6a6a"/>
<rect x="629.20" y="129.03" width="12.60" height="3.73" fill="#6a6a6a"/>
<rect x="629.20" y="133.24" width="12.60" height="4.20" fill="#000"/>
<rect x="629.20" y="142.57" width="12.60" height="1.21" fill="#000"/>
<rect x="629.20" y="156.11" width="12.60" height="2.33" fill="#000"/>
<rect x="629.20" y="160.78" width="12.60" height="4.20" fill="#000"/>
<rect x="629.20" y="161.79" width="12.60" height="4.03" fill="#000"/>
<rect x="629.20" y="168.50" width="12.60" height="1.34" fill="#000"/>
<rect x="629.20" y="171.19" width="12.60" height="1.34" fill="#000"/>
<rect x="629.20" y="173.43" width="12.60" height="1.34" fill="#000"/>
<rect x="629.20" y="175.40" width="12.60" height="1.61" fill="#000"/>
<rect x="629.20" y="180.14" width="12.60" height="2.24" fill="#6a6a6a"/>
<rect x="629.20" y="191.78" width="12.60" height="3.13" fill="#000"/>
<rect x="629.20" y="198.50" width="12.60" height="1.34" fill="#000"/>
<rect x="629.20" y="202.79" width="12.60" height="1.25" fill="#000"/>
<rect x="629.20" y="208.79" width="12.60" height="1.16" fill="#000"/>
<rect x="629.20" y="214.16" width="12.60" height="1.79" fill="#6a6a6a"/>
<rect x="629.20" y="216.58" width="12.60" height="1.16" fill="#000"/>
<rect x="629.20" y="225.17" width="12.60" height="1.52" fill="#000"/>
<rect x="629.20" y="228.49" width="12.60" height="4.03" fill="#000"/>
<rect x="629.20" y="233.86" width="12.60" height="6.71" fill="#000"/>
<rect x="629.20" y="241.92" width="12.60" height="1.79" fill="#000"/>
<rect x="629.20" y="244.60" width="12.60" height="1.34" fill="#000"/>
<rect x="629.20" y="248.18" width="12.60" height="1.79" fill="#000"/>
<rect x="629.20" y="250.60" width="12.60" height="1.61" fill="#000"/>
<rect x="629.20" y="253.11" width="12.60" height="1.79" fill="#000"/>
<rect x="629.20" y="255.79" width="12.60" height="1.34" fill="#000"/>
<rect x="629.20" y="257.58" width="12.60" height="2.24" fill="#6a6a6a"/>
<rect x="629.20" y="261.16" width="12.60" height="6.27" fill="#000"/>
<rect x="629.20" y="270.56" width="12.60" height="1.79" fill="#000"/>
<rect x="634.90" y="50.79" width="1.20" height="221.57" fill="#000"/>
<rect x="688.40" y="50.79" width="12.60" height="6.82" fill="#000"/>
<rect x="688.40" y="59.75" width="12.60" height="1.12" fill="#000"/>
<rect x="688.40" y="65.35" width="12.60" height="2.52" fill="#000"/>
<rect x="688.40" y="75.35" width="12.60" height="2.33" fill="#000"/>
<rect x="688.40" y="78.43" width="12.60" height="2.52" fill="#6a6a6a"/>
<rect x="688.40" y="81.41" width="12.60" height="1.87" fill="#000"/>
<rect x="688.40" y="86.08" width="12.60" height="7.94" fill="#000"/>
<rect x="688.40" y="99.15" width="12.60" height="1.40" fill="#000"/>
<rect x="688.40" y="101.49" width="12.60" height="1.21" fill="#000"/>
<rect x="688.40" y="107.09" width="12.60" height="2.33" fill="#000"/>
<rect x="688.40" y="109.89" width="12.60" height="1.40" fill="#6a6a6a"/>
<rect x="688.40" y="111.48" width="12.60" height="1.21" fill="#000"/>
<rect x="688.40" y="116.43" width="12.60" height="3.27" fill="#000"/>
<rect x="688.40" y="119.98" width="12.60" height="1.12" fill="#6a6a6a"/>
<rect x="688.40" y="121.56" width="12.60" height="9.34" fill="#000"/>
<rect x="688.40" y="132.30" width="12.60" height="7.00" fill="#000"/>
<rect x="688.40" y="140.24" width="12.60" height="6.54" fill="#000"/>
<rect x="688.40" y="150.04" width="12.60" height="2.33" fill="#000"/>
<rect x="688.40" y="155.64" width="12.60" height="0.93" fill="#000"/>
<rect x="688.40" y="157.98" width="12.60" height="7.00" fill="#000"/>
<rect x="688.40" y="160.00" width="12.60" height="3.73" fill="#000"/>
<rect x="688.40" y="164.01" width="12.60" height="1.12" fill="#6a6a6a"/>
<rect x="688.40" y="165.42" width="12.60" height="2.05" fill="#000"/>
<rect x="688.40" y="170.46" width="12.60" height="5.88" fill="#000"/>
<rect x="688.40" y="178.21" width="12.60" height="1.40" fill="#000"/>
<rect x="688.40" y="183.34" width="12.60" height="1.12" fill="#6a6a6a"/>
<rect x="688.40" y="188.76" width="12.60" height="2.99" fill="#000"/>
<rect x="688.40" y="192.68" width="12.60" height="4.20" fill="#000"/>
<rect x="688.40" y="197.82" width="12.60" height="0.65" fill="#000"/>
<rect x="688.40" y="199.68" width="12.60" height="4.20" fill="#000"/>
<rect x="688.40" y="205.75" width="12.60" height="0.93" fill="#000"/>
<rect x="688.40" y="206.97" width="12.60" height="1.59" fill="#6a6a6a"/>
<rect x="688.40" y="208.83" width="12.60" height="8.12" fill="#000"/>
<rect x="688.40" y="220.50" width="12.60" height="1.59" fill="#6a6a6a"/>
<rect x="688.40" y="223.03" width="12.60" height="1.87" fill="#000"/>
<rect x="688.40" y="229.09" width="12.60" height="2.33" fill="#000"/>
<rect x="688.40" y="232.83" width="12.60" height="1.12" fill="#000"/>
<rect x="688.40" y="237.03" width="12.60" height="1.21" fill="#000"/>
<rect x="688.40" y="244.03" width="12.60" height="1.68" fill="#000"/>
<rect x="688.40" y="256.64" width="12.60" height="1.21" fill="#000"/>
<rect x="688.40" y="258.79" width="12.60" height="1.12" fill="#000"/>
<rect x="688.40" y="262.71" width="12.60" height="1.12" fill="#000"/>
<rect x="688.40" y="264.11" width="12.60" height="2.33" fill="#6a6a6a"/>
<rect x="688.40" y="266.91" width="12.60" height="4.67" fill="#000"/>
<rect x="688.40" y="272.04" width="12.60" height="2.61" fill="#000"/>
<rect x="694.10" y="50.79" width="1.20" height="223.87" fill="#000"/>
<rect x="747.60" y="50.79" width="12.60" height="7.28" fill="#000"/>
<rect x="747.60" y="58.82" width="12.60" height="1.12" fill="#000"/>
<rect x="747.60" y="61.06" width="12.60" height="1.49" fill="#000"/>
<rect x="747.60" y="63.49" width="12.60" height="1.31" fill="#000"/>
<rect x="747.60" y="66.94" width="12.60" height="1.59" fill="#000"/>
<rect x="747.60" y="68.53" width="12.60" height="0.93" fill="#6a6a6a"/>
<rect x="747.60" y="69.46" width="12.60" height="1.49" fill="#000"/>
<rect x="747.60" y="74.41" width="12.60" height="2.33" fill="#000"/>
<rect x="747.60" y="77.68" width="12.60" height="2.05" fill="#000"/>
<rect x="747.60" y="80.95" width="12.60" height="1.87" fill="#000"/>
<rect x="747.60" y="83.10" width="12.60" height="1.59" fill="#6a6a6a"/>
<rect x="747.60" y="85.15" width="12.60" height="5.60" fill="#000"/>
<rect x="747.60" y="95.89" width="12.60" height="0.93" fill="#000"/>
<rect x="747.60" y="102.42" width="12.60" height="1.40" fill="#000"/>
<rect x="747.60" y="104.76" width="12.60" height="1.40" fill="#000"/>
<rect x="747.60" y="108.31" width="12.60" height="3.92" fill="#000"/>
<rect x="747.60" y="112.97" width="12.60" height="2.52" fill="#000"/>
<rect x="747.60" y="118.30" width="12.60" height="0.93" fill="#000"/>
<rect x="747.60" y="120.63" width="12.60" height="1.40" fill="#000"/>
<rect x="747.60" y="126.70" width="12.60" height="3.27" fill="#000"/>
<rect x="747.60" y="130.25" width="12.60" height="1.59" fill="#6a6a6a"/>
<rect x="747.60" y="132.02" width="12.60" height="2.61" fill="#000"/>
<rect x="747.60" y="134.92" width="12.60" height="3.92" fill="#6a6a6a"/>
<rect x="747.60" y="139.12" width="12.60" height="3.45" fill="#000"/>
<rect x="747.60" y="145.37" width="12.60" height="2.80" fill="#000"/>
<rect x="747.60" y="152.38" width="12.60" height="1.40" fill="#000"/>
<rect x="747.60" y="156.58" width="12.60" height="8.40" fill="#000"/>
<rect x="747.60" y="160.00" width="12.60" height="9.98" fill="#000"/>
<rect x="747.60" y="174.18" width="12.60" height="1.58" fill="#000"/>
<rect x="747.60" y="178.91" width="12.60" height="6.83" fill="#000"/>
<rect x="747.60" y="186.79" width="12.60" height="3.15" fill="#000"/>
<rect x="747.60" y="190.67" width="12.60" height="2.94" fill="#000"/>
<rect x="747.60" y="194.45" width="12.60" height="1.26" fill="#000"/>
<rect x="747.60" y="201.28" width="12.60" height="1.26" fill="#000"/>
<rect x="747.60" y="207.79" width="12.60" height="3.15" fill="#000"/>
<rect x="747.60" y="212.00" width="12.60" height="2.63" fill="#000"/>
<rect x="747.60" y="216.20" width="12.60" height="2.10" fill="#000"/>
<rect x="747.60" y="219.35" width="12.60" height="2.10" fill="#000"/>
<rect x="747.60" y="225.13" width="12.60" height="6.83" fill="#000"/>
<rect x="747.60" y="233.00" width="12.60" height="2.10" fill="#000"/>
<rect x="747.60" y="236.68" width="12.60" height="1.58" fill="#000"/>
<rect x="747.60" y="238.99" width="12.60" height="2.94" fill="#000"/>
<rect x="747.60" y="242.98" width="12.60" height="2.10" fill="#000"/>
<rect x="747.60" y="246.97" width="12.60" height="1.58" fill="#000"/>
<rect x="747.60" y="261.37" width="12.60" height="1.37" fill="#000"/>
<rect x="747.60" y="263.99" width="12.60" height="4.20" fill="#000"/>
<rect x="747.60" y="269.24" width="12.60" height="4.20" fill="#000"/>
<rect x="747.60" y="276.07" width="12.60" height="1.05" fill="#000"/>
<rect x="747.60" y="278.17" width="12.60" height="3.68" fill="#000"/>
<rect x="747.60" y="281.85" width="12.60" height="1.26" fill="#6a6a6a"/>
<rect x="747.60" y="283.42" width="12.60" height="7.35" fill="#000"/>
<rect x="753.30" y="50.79" width="1.20" height="239.99" fill="#000"/>
<line x1="114.5" y1="143.6" x2="114.5" y2="165.6" stroke="#0f0" stroke-width="4.2" stroke-linecap="round"/>
<line x1="114.5" y1="432.5" x2="114.5" y2="447.8" stroke="#f00" stroke-width="4.2" stroke-linecap="round"/>
<line x1="122.5" y1="436.2" x2="122.5" y2="450.7" stroke="#00f" stroke-width="4.2" stroke-linecap="round"/>
<line x1="232.9" y1="427.0" x2="232.9" y2="459.8" stroke="#f00" stroke-width="4.2" stroke-linecap="round"/>
<line x1="240.8" y1="449.9" x2="240.8" y2="479.2" stroke="#0f0" stroke-width="4.2" stroke-linecap="round"/>
<line x1="292.2" y1="146.0" x2="292.2" y2="221.6" stroke="#0f0" stroke-width="4.2" stroke-linecap="round"/>
<line x1="299.9" y1="168.9" x2="299.9" y2="221.6" stroke="#f00" stroke-width="4.2" stroke-linecap="round"/>
<line x1="410.6" y1="65.7" x2="410.6" y2="85.5" stroke="#f00" stroke-width="4.2" stroke-linecap="round"/>
<line x1="529.1" y1="130.1" x2="529.1" y2="132.2" stroke="#f00" stroke-width="4.2" stroke-linecap="round"/>
<line x1="114.4" y1="901.0" x2="114.4" y2="948.8" stroke="#0f0" stroke-width="4.2" stroke-linecap="round"/>
<line x1="120.3" y1="927.8" x2="120.3" y2="941.5" stroke="#f00" stroke-width="4.2" stroke-linecap="round"/>
<line x1="126.2" y1="929.1" x2="126.2" y2="1160.3" stroke="#00f" stroke-width="4.2" stroke-linecap="round"/>
<line x1="114.6" y1="1009.7" x2="114.6" y2="1160.3" stroke="#f00" stroke-width="4.2" stroke-linecap="round"/>
<line x1="410.7" y1="830.2" x2="410.7" y2="878.3" stroke="#00f" stroke-width="4.2" stroke-linecap="round"/>
<g style="will-change:transform">
<text class="sm" transform="translate(124.1,130.6) rotate(90)" font-size="13" font-style="italic">qShB1-2</text>
<text class="sm" transform="translate(131.1,416.3) rotate(90)" font-size="13">qShB1-1</text>
<text class="sm" transform="translate(252.7,439.9) rotate(90)" font-size="13">qShB3</text>
<text class="sm" transform="translate(309.1,171.6) rotate(90)" font-size="13">qShB4</text>
<text class="sm" transform="translate(421.2,52.1) rotate(90)" font-size="13">qShB6-1</text>
<text class="sm" transform="translate(537.6,114.4) rotate(90)" font-size="13">qShB8</text>
<text class="sm" transform="translate(135.0,901.5) rotate(90)" font-size="13">qShB1-4</text>
<text class="sm" transform="translate(131.3,1063.6) rotate(90)" font-size="13">qShB1-3</text>
<text class="sm" transform="translate(418.0,827.1) rotate(90)" font-size="13">qShB6-2</text>
<line x1="74.7" y1="50.5" x2="74.7" y2="526.3" stroke="#000" stroke-width="1.3"/>
<line x1="66" y1="50.5" x2="74.7" y2="50.5" stroke="#000" stroke-width="1.3"/>
<text transform="translate(55.6,50.5) rotate(-90)" class="sm" font-size="13" text-anchor="middle">0</text>
<line x1="66" y1="169.4" x2="74.7" y2="169.4" stroke="#000" stroke-width="1.3"/>
<text transform="translate(55.6,169.4) rotate(-90)" class="sm" font-size="13" text-anchor="middle">50</text>
<line x1="66" y1="288.4" x2="74.7" y2="288.4" stroke="#000" stroke-width="1.3"/>
<text transform="translate(55.6,288.4) rotate(-90)" class="sm" font-size="13" text-anchor="middle">100</text>
<line x1="66" y1="407.4" x2="74.7" y2="407.4" stroke="#000" stroke-width="1.3"/>
<text transform="translate(55.6,407.4) rotate(-90)" class="sm" font-size="13" text-anchor="middle">150</text>
<line x1="66" y1="526.3" x2="74.7" y2="526.3" stroke="#000" stroke-width="1.3"/>
<text transform="translate(55.6,526.3) rotate(-90)" class="sm" font-size="13" text-anchor="middle">200</text>
<line x1="102.7" y1="554.3" x2="753.9000000000001" y2="554.3" stroke="#000" stroke-width="1.3"/>
<line x1="102.7" y1="554.3" x2="102.7" y2="562.5" stroke="#000" stroke-width="1.3"/>
<text x="102.7" y="582.9" class="sm" font-size="13" text-anchor="middle">1</text>
<line x1="161.9" y1="554.3" x2="161.9" y2="562.5" stroke="#000" stroke-width="1.3"/>
<text x="161.9" y="582.9" class="sm" font-size="13" text-anchor="middle">2</text>
<line x1="221.1" y1="554.3" x2="221.1" y2="562.5" stroke="#000" stroke-width="1.3"/>
<text x="221.1" y="582.9" class="sm" font-size="13" text-anchor="middle">3</text>
<line x1="280.3" y1="554.3" x2="280.3" y2="562.5" stroke="#000" stroke-width="1.3"/>
<text x="280.3" y="582.9" class="sm" font-size="13" text-anchor="middle">4</text>
<line x1="339.5" y1="554.3" x2="339.5" y2="562.5" stroke="#000" stroke-width="1.3"/>
<text x="339.5" y="582.9" class="sm" font-size="13" text-anchor="middle">5</text>
<line x1="398.7" y1="554.3" x2="398.7" y2="562.5" stroke="#000" stroke-width="1.3"/>
<text x="398.7" y="582.9" class="sm" font-size="13" text-anchor="middle">6</text>
<line x1="457.9" y1="554.3" x2="457.9" y2="562.5" stroke="#000" stroke-width="1.3"/>
<text x="457.9" y="582.9" class="sm" font-size="13" text-anchor="middle">7</text>
<line x1="517.1" y1="554.3" x2="517.1" y2="562.5" stroke="#000" stroke-width="1.3"/>
<text x="517.1" y="582.9" class="sm" font-size="13" text-anchor="middle">8</text>
<line x1="576.3" y1="554.3" x2="576.3" y2="562.5" stroke="#000" stroke-width="1.3"/>
<text x="576.3" y="582.9" class="sm" font-size="13" text-anchor="middle">9</text>
<line x1="635.5" y1="554.3" x2="635.5" y2="562.5" stroke="#000" stroke-width="1.3"/>
<text x="635.5" y="582.9" class="sm" font-size="13" text-anchor="middle">10</text>
<line x1="694.7" y1="554.3" x2="694.7" y2="562.5" stroke="#000" stroke-width="1.3"/>
<text x="694.7" y="582.9" class="sm" font-size="13" text-anchor="middle">11</text>
<line x1="753.9" y1="554.3" x2="753.9" y2="562.5" stroke="#000" stroke-width="1.3"/>
<text x="753.9" y="582.9" class="sm" font-size="13" text-anchor="middle">12</text>
<text x="326.0" y="617.0" font-size="26.5">Chromosome</text>
<text transform="translate(19.1,404.0) rotate(-90)" font-size="26.3">mapping position (cM)</text>
<text x="31.5" y="31.3" font-size="36.8">A.</text>
<text x="294.0" y="28.3" font-size="39.5">B Population</text>
<line x1="636.9" y1="484.4" x2="666.9" y2="484.4" stroke="#f00" stroke-width="2"/>
<text x="680.2" y="488.6" font-size="11.0" fill="#111">2015</text>
<line x1="636.9" y1="506.7" x2="666.9" y2="506.7" stroke="#0f0" stroke-width="2"/>
<text x="680.2" y="510.9" font-size="11.0" fill="#111">2015 covariate model</text>
<line x1="636.9" y1="529.0" x2="666.9" y2="529.0" stroke="#00f" stroke-width="2"/>
<text x="680.2" y="533.2" font-size="11.0" fill="#111">2016</text>
<line x1="74.7" y1="718.7" x2="74.7" y2="1194.5" stroke="#000" stroke-width="1.3"/>
<line x1="66" y1="718.7" x2="74.7" y2="718.7" stroke="#000" stroke-width="1.3"/>
<text transform="translate(55.6,718.7) rotate(-90)" class="sm" font-size="13" text-anchor="middle">0</text>
<line x1="66" y1="837.7" x2="74.7" y2="837.7" stroke="#000" stroke-width="1.3"/>
<text transform="translate(55.6,837.7) rotate(-90)" class="sm" font-size="13" text-anchor="middle">50</text>
<line x1="66" y1="956.6" x2="74.7" y2="956.6" stroke="#000" stroke-width="1.3"/>
<text transform="translate(55.6,956.6) rotate(-90)" class="sm" font-size="13" text-anchor="middle">100</text>
<line x1="66" y1="1075.6" x2="74.7" y2="1075.6" stroke="#000" stroke-width="1.3"/>
<text transform="translate(55.6,1075.6) rotate(-90)" class="sm" font-size="13" text-anchor="middle">150</text>
<line x1="66" y1="1194.5" x2="74.7" y2="1194.5" stroke="#000" stroke-width="1.3"/>
<text transform="translate(55.6,1194.5) rotate(-90)" class="sm" font-size="13" text-anchor="middle">200</text>
<line x1="102.7" y1="1222.5" x2="753.9000000000001" y2="1222.5" stroke="#000" stroke-width="1.3"/>
<line x1="102.7" y1="1222.5" x2="102.7" y2="1230.7" stroke="#000" stroke-width="1.3"/>
<text x="102.7" y="1251.1" class="sm" font-size="13" text-anchor="middle">1</text>
<line x1="161.9" y1="1222.5" x2="161.9" y2="1230.7" stroke="#000" stroke-width="1.3"/>
<text x="161.9" y="1251.1" class="sm" font-size="13" text-anchor="middle">2</text>
<line x1="221.1" y1="1222.5" x2="221.1" y2="1230.7" stroke="#000" stroke-width="1.3"/>
<text x="221.1" y="1251.1" class="sm" font-size="13" text-anchor="middle">3</text>
<line x1="280.3" y1="1222.5" x2="280.3" y2="1230.7" stroke="#000" stroke-width="1.3"/>
<text x="280.3" y="1251.1" class="sm" font-size="13" text-anchor="middle">4</text>
<line x1="339.5" y1="1222.5" x2="339.5" y2="1230.7" stroke="#000" stroke-width="1.3"/>
<text x="339.5" y="1251.1" class="sm" font-size="13" text-anchor="middle">5</text>
<line x1="398.7" y1="1222.5" x2="398.7" y2="1230.7" stroke="#000" stroke-width="1.3"/>
<text x="398.7" y="1251.1" class="sm" font-size="13" text-anchor="middle">6</text>
<line x1="457.9" y1="1222.5" x2="457.9" y2="1230.7" stroke="#000" stroke-width="1.3"/>
<text x="457.9" y="1251.1" class="sm" font-size="13" text-anchor="middle">7</text>
<line x1="517.1" y1="1222.5" x2="517.1" y2="1230.7" stroke="#000" stroke-width="1.3"/>
<text x="517.1" y="1251.1" class="sm" font-size="13" text-anchor="middle">8</text>
<line x1="576.3" y1="1222.5" x2="576.3" y2="1230.7" stroke="#000" stroke-width="1.3"/>
<text x="576.3" y="1251.1" class="sm" font-size="13" text-anchor="middle">9</text>
<line x1="635.5" y1="1222.5" x2="635.5" y2="1230.7" stroke="#000" stroke-width="1.3"/>
<text x="635.5" y="1251.1" class="sm" font-size="13" text-anchor="middle">10</text>
<line x1="694.7" y1="1222.5" x2="694.7" y2="1230.7" stroke="#000" stroke-width="1.3"/>
<text x="694.7" y="1251.1" class="sm" font-size="13" text-anchor="middle">11</text>
<line x1="753.9" y1="1222.5" x2="753.9" y2="1230.7" stroke="#000" stroke-width="1.3"/>
<text x="753.9" y="1251.1" class="sm" font-size="13" text-anchor="middle">12</text>
<text x="330.8" y="1285.2" font-size="26.5">Chromosome</text>
<text transform="translate(24.0,1076.5) rotate(-90)" font-size="26.3">mapping position (cM)</text>
<text x="19.0" y="696.2" font-size="36.8">B.</text>
<text x="302.5" y="696.5" font-size="39.5">S Population</text>
<line x1="633.6999999999999" y1="1152.6" x2="663.6999999999999" y2="1152.6" stroke="#f00" stroke-width="2"/>
<text x="677.0" y="1156.8" font-size="11.0" fill="#111">2015</text>
<line x1="633.6999999999999" y1="1174.9" x2="663.6999999999999" y2="1174.9" stroke="#0f0" stroke-width="2"/>
<text x="677.0" y="1179.1" font-size="11.0" fill="#111">2015 covariate model</text>
<line x1="633.6999999999999" y1="1197.2" x2="663.6999999999999" y2="1197.2" stroke="#00f" stroke-width="2"/>
<text x="677.0" y="1201.4" font-size="11.0" fill="#111">2016</text>
</g>
</svg>
</body></html>
